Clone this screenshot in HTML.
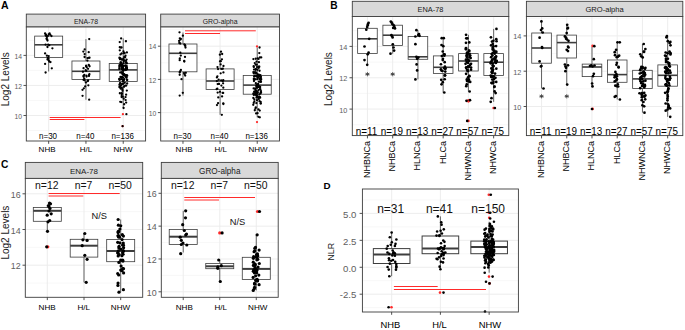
<!DOCTYPE html>
<html><head><meta charset="utf-8"><style>
html,body{margin:0;padding:0;background:#fff;width:685px;height:330px;overflow:hidden}
svg{display:block;font-family:"Liberation Sans", sans-serif}
</style></head><body>
<svg width="685" height="330" viewBox="0 0 685 330" font-family='"Liberation Sans", sans-serif'>
<rect x="0.00" y="0.00" width="685.00" height="330.00" fill="#ffffff"/>
<text x="1.00" y="8.70" font-size="10.5" text-anchor="start" fill="#000" font-weight="bold">A</text>
<text x="330.30" y="8.90" font-size="10.2" text-anchor="start" fill="#000" font-weight="bold">B</text>
<text x="1.00" y="167.90" font-size="10.2" text-anchor="start" fill="#000" font-weight="bold">C</text>
<text x="323.40" y="189.30" font-size="9.8" text-anchor="start" fill="#000" font-weight="bold">D</text>
<rect x="26.30" y="14.10" width="119.30" height="12.90" fill="#d9d9d9" stroke="#3d3d3d" stroke-width="0.9"/>
<text x="85.95" y="24.40" font-size="6.9" text-anchor="middle" fill="#1a1a1a" font-weight="normal">ENA-78</text>
<rect x="26.30" y="27.00" width="119.30" height="114.00" fill="#ffffff"/>
<line x1="26.30" y1="130.53" x2="145.60" y2="130.53" stroke="#f2f2f2" stroke-width="0.6"/>
<line x1="26.30" y1="100.47" x2="145.60" y2="100.47" stroke="#f2f2f2" stroke-width="0.6"/>
<line x1="26.30" y1="70.42" x2="145.60" y2="70.42" stroke="#f2f2f2" stroke-width="0.6"/>
<line x1="26.30" y1="40.38" x2="145.60" y2="40.38" stroke="#f2f2f2" stroke-width="0.6"/>
<line x1="26.30" y1="115.50" x2="145.60" y2="115.50" stroke="#ebebeb" stroke-width="0.9"/>
<line x1="26.30" y1="85.45" x2="145.60" y2="85.45" stroke="#ebebeb" stroke-width="0.9"/>
<line x1="26.30" y1="55.40" x2="145.60" y2="55.40" stroke="#ebebeb" stroke-width="0.9"/>
<line x1="48.67" y1="27.00" x2="48.67" y2="141.00" stroke="#ebebeb" stroke-width="0.9"/>
<line x1="85.95" y1="27.00" x2="85.95" y2="141.00" stroke="#ebebeb" stroke-width="0.9"/>
<line x1="123.23" y1="27.00" x2="123.23" y2="141.00" stroke="#ebebeb" stroke-width="0.9"/>
<line x1="23.50" y1="115.50" x2="26.30" y2="115.50" stroke="#3d3d3d" stroke-width="0.9"/>
<text x="22.00" y="118.75" font-size="6.8" text-anchor="end" fill="#5e5e5e" font-weight="normal">10</text>
<line x1="23.50" y1="85.45" x2="26.30" y2="85.45" stroke="#3d3d3d" stroke-width="0.9"/>
<text x="22.00" y="88.70" font-size="6.8" text-anchor="end" fill="#5e5e5e" font-weight="normal">12</text>
<line x1="23.50" y1="55.40" x2="26.30" y2="55.40" stroke="#3d3d3d" stroke-width="0.9"/>
<text x="22.00" y="58.65" font-size="6.8" text-anchor="end" fill="#5e5e5e" font-weight="normal">14</text>
<line x1="48.67" y1="141.00" x2="48.67" y2="143.80" stroke="#3d3d3d" stroke-width="0.9"/>
<text x="47.07" y="152.00" font-size="8.0" text-anchor="middle" fill="#000000" font-weight="normal">NHB</text>
<line x1="85.95" y1="141.00" x2="85.95" y2="143.80" stroke="#3d3d3d" stroke-width="0.9"/>
<text x="85.95" y="152.00" font-size="8.0" text-anchor="middle" fill="#000000" font-weight="normal">H/L</text>
<line x1="123.23" y1="141.00" x2="123.23" y2="143.80" stroke="#3d3d3d" stroke-width="0.9"/>
<text x="123.03" y="152.00" font-size="8.0" text-anchor="middle" fill="#000000" font-weight="normal">NHW</text>
<line x1="48.67" y1="33.40" x2="48.67" y2="36.10" stroke="#3d3d3d" stroke-width="0.8"/>
<line x1="48.67" y1="57.40" x2="48.67" y2="71.50" stroke="#3d3d3d" stroke-width="0.8"/>
<rect x="34.67" y="36.10" width="28.00" height="21.30" fill="#ffffff" stroke="#3d3d3d" stroke-width="0.8"/>
<line x1="34.67" y1="44.80" x2="62.67" y2="44.80" stroke="#3d3d3d" stroke-width="1.6"/>
<circle cx="45.10" cy="33.40" r="1.15" fill="#000000"/>
<circle cx="46.00" cy="34.60" r="1.15" fill="#000000"/>
<circle cx="46.90" cy="37.00" r="1.15" fill="#000000"/>
<circle cx="46.50" cy="38.80" r="1.15" fill="#000000"/>
<circle cx="47.50" cy="40.60" r="1.15" fill="#000000"/>
<circle cx="48.70" cy="34.30" r="1.15" fill="#000000"/>
<circle cx="49.60" cy="33.40" r="1.15" fill="#000000"/>
<circle cx="51.50" cy="36.10" r="1.15" fill="#000000"/>
<circle cx="47.80" cy="36.10" r="1.15" fill="#000000"/>
<circle cx="45.60" cy="35.20" r="1.15" fill="#000000"/>
<circle cx="45.60" cy="44.60" r="1.15" fill="#000000"/>
<circle cx="48.20" cy="44.60" r="1.15" fill="#000000"/>
<circle cx="49.30" cy="45.20" r="1.15" fill="#000000"/>
<circle cx="47.50" cy="47.00" r="1.15" fill="#000000"/>
<circle cx="52.40" cy="48.30" r="1.15" fill="#000000"/>
<circle cx="45.10" cy="53.40" r="1.15" fill="#000000"/>
<circle cx="46.90" cy="55.70" r="1.15" fill="#000000"/>
<circle cx="48.70" cy="56.10" r="1.15" fill="#000000"/>
<circle cx="47.80" cy="57.90" r="1.15" fill="#000000"/>
<circle cx="47.50" cy="59.40" r="1.15" fill="#000000"/>
<circle cx="48.70" cy="60.30" r="1.15" fill="#000000"/>
<circle cx="50.50" cy="62.10" r="1.15" fill="#000000"/>
<circle cx="45.10" cy="63.90" r="1.15" fill="#000000"/>
<circle cx="51.80" cy="68.30" r="1.15" fill="#000000"/>
<circle cx="45.60" cy="72.50" r="1.15" fill="#000000"/>
<circle cx="49.30" cy="61.50" r="1.15" fill="#000000"/>
<circle cx="46.30" cy="36.00" r="1.15" fill="#000000"/>
<circle cx="50.30" cy="34.80" r="1.15" fill="#000000"/>
<circle cx="47.20" cy="39.50" r="1.15" fill="#000000"/>
<circle cx="48.50" cy="58.50" r="1.15" fill="#000000"/>
<line x1="85.95" y1="39.10" x2="85.95" y2="61.00" stroke="#3d3d3d" stroke-width="0.8"/>
<line x1="85.95" y1="79.40" x2="85.95" y2="99.70" stroke="#3d3d3d" stroke-width="0.8"/>
<rect x="71.95" y="61.00" width="28.00" height="18.40" fill="#ffffff" stroke="#3d3d3d" stroke-width="0.8"/>
<line x1="71.95" y1="71.30" x2="99.95" y2="71.30" stroke="#3d3d3d" stroke-width="1.6"/>
<circle cx="89.23" cy="39.10" r="1.15" fill="#000000"/>
<circle cx="89.17" cy="99.70" r="1.15" fill="#000000"/>
<circle cx="82.96" cy="71.76" r="1.15" fill="#000000"/>
<circle cx="87.65" cy="81.14" r="1.15" fill="#000000"/>
<circle cx="84.57" cy="57.02" r="1.15" fill="#000000"/>
<circle cx="86.72" cy="67.24" r="1.15" fill="#000000"/>
<circle cx="83.49" cy="76.01" r="1.15" fill="#000000"/>
<circle cx="85.18" cy="86.38" r="1.15" fill="#000000"/>
<circle cx="89.51" cy="57.72" r="1.15" fill="#000000"/>
<circle cx="86.27" cy="70.78" r="1.15" fill="#000000"/>
<circle cx="84.28" cy="74.90" r="1.15" fill="#000000"/>
<circle cx="82.55" cy="95.85" r="1.15" fill="#000000"/>
<circle cx="84.64" cy="54.03" r="1.15" fill="#000000"/>
<circle cx="88.77" cy="64.91" r="1.15" fill="#000000"/>
<circle cx="86.39" cy="75.56" r="1.15" fill="#000000"/>
<circle cx="82.52" cy="89.84" r="1.15" fill="#000000"/>
<circle cx="83.33" cy="51.59" r="1.15" fill="#000000"/>
<circle cx="89.54" cy="66.26" r="1.15" fill="#000000"/>
<circle cx="83.66" cy="76.76" r="1.15" fill="#000000"/>
<circle cx="88.09" cy="80.51" r="1.15" fill="#000000"/>
<circle cx="88.88" cy="57.87" r="1.15" fill="#000000"/>
<circle cx="88.04" cy="68.86" r="1.15" fill="#000000"/>
<circle cx="89.41" cy="74.17" r="1.15" fill="#000000"/>
<circle cx="83.51" cy="79.79" r="1.15" fill="#000000"/>
<circle cx="87.50" cy="58.12" r="1.15" fill="#000000"/>
<circle cx="86.17" cy="65.75" r="1.15" fill="#000000"/>
<circle cx="89.01" cy="75.27" r="1.15" fill="#000000"/>
<circle cx="88.34" cy="85.33" r="1.15" fill="#000000"/>
<circle cx="88.71" cy="52.13" r="1.15" fill="#000000"/>
<circle cx="85.67" cy="70.27" r="1.15" fill="#000000"/>
<circle cx="88.98" cy="75.90" r="1.15" fill="#000000"/>
<circle cx="85.85" cy="82.43" r="1.15" fill="#000000"/>
<circle cx="84.69" cy="49.41" r="1.15" fill="#000000"/>
<circle cx="83.55" cy="68.21" r="1.15" fill="#000000"/>
<circle cx="84.28" cy="78.65" r="1.15" fill="#000000"/>
<circle cx="84.58" cy="80.32" r="1.15" fill="#000000"/>
<circle cx="87.43" cy="60.53" r="1.15" fill="#000000"/>
<circle cx="86.08" cy="66.19" r="1.15" fill="#000000"/>
<circle cx="86.58" cy="76.58" r="1.15" fill="#000000"/>
<circle cx="83.85" cy="88.36" r="1.15" fill="#000000"/>
<line x1="123.23" y1="38.40" x2="123.23" y2="63.40" stroke="#3d3d3d" stroke-width="0.8"/>
<line x1="123.23" y1="81.50" x2="123.23" y2="108.00" stroke="#3d3d3d" stroke-width="0.8"/>
<rect x="109.23" y="63.40" width="28.00" height="18.10" fill="#ffffff" stroke="#3d3d3d" stroke-width="0.8"/>
<line x1="109.23" y1="69.90" x2="137.23" y2="69.90" stroke="#3d3d3d" stroke-width="1.6"/>
<circle cx="122.90" cy="114.20" r="1.15" fill="#ff2a2a"/>
<circle cx="122.60" cy="126.20" r="1.15" fill="#ff2a2a"/>
<circle cx="121.13" cy="38.40" r="1.15" fill="#000000"/>
<circle cx="123.59" cy="108.00" r="1.15" fill="#000000"/>
<circle cx="124.06" cy="74.19" r="1.15" fill="#000000"/>
<circle cx="119.76" cy="87.04" r="1.15" fill="#000000"/>
<circle cx="125.93" cy="41.27" r="1.15" fill="#000000"/>
<circle cx="121.11" cy="65.09" r="1.15" fill="#000000"/>
<circle cx="122.99" cy="81.45" r="1.15" fill="#000000"/>
<circle cx="123.04" cy="83.76" r="1.15" fill="#000000"/>
<circle cx="120.44" cy="58.39" r="1.15" fill="#000000"/>
<circle cx="126.18" cy="67.53" r="1.15" fill="#000000"/>
<circle cx="125.16" cy="75.97" r="1.15" fill="#000000"/>
<circle cx="119.74" cy="86.29" r="1.15" fill="#000000"/>
<circle cx="123.96" cy="60.17" r="1.15" fill="#000000"/>
<circle cx="119.48" cy="65.36" r="1.15" fill="#000000"/>
<circle cx="123.01" cy="79.94" r="1.15" fill="#000000"/>
<circle cx="126.26" cy="85.53" r="1.15" fill="#000000"/>
<circle cx="126.60" cy="59.53" r="1.15" fill="#000000"/>
<circle cx="125.64" cy="65.97" r="1.15" fill="#000000"/>
<circle cx="126.72" cy="75.06" r="1.15" fill="#000000"/>
<circle cx="120.01" cy="83.16" r="1.15" fill="#000000"/>
<circle cx="120.97" cy="47.62" r="1.15" fill="#000000"/>
<circle cx="122.72" cy="69.68" r="1.15" fill="#000000"/>
<circle cx="121.64" cy="77.17" r="1.15" fill="#000000"/>
<circle cx="122.32" cy="89.13" r="1.15" fill="#000000"/>
<circle cx="123.91" cy="53.21" r="1.15" fill="#000000"/>
<circle cx="126.46" cy="67.20" r="1.15" fill="#000000"/>
<circle cx="126.66" cy="77.81" r="1.15" fill="#000000"/>
<circle cx="127.16" cy="83.48" r="1.15" fill="#000000"/>
<circle cx="120.54" cy="58.88" r="1.15" fill="#000000"/>
<circle cx="126.95" cy="68.99" r="1.15" fill="#000000"/>
<circle cx="123.78" cy="80.39" r="1.15" fill="#000000"/>
<circle cx="120.92" cy="85.61" r="1.15" fill="#000000"/>
<circle cx="123.82" cy="61.20" r="1.15" fill="#000000"/>
<circle cx="119.74" cy="65.25" r="1.15" fill="#000000"/>
<circle cx="127.15" cy="79.81" r="1.15" fill="#000000"/>
<circle cx="125.64" cy="100.12" r="1.15" fill="#000000"/>
<circle cx="120.44" cy="54.42" r="1.15" fill="#000000"/>
<circle cx="125.38" cy="65.31" r="1.15" fill="#000000"/>
<circle cx="119.58" cy="80.02" r="1.15" fill="#000000"/>
<circle cx="119.59" cy="87.23" r="1.15" fill="#000000"/>
<circle cx="121.88" cy="59.59" r="1.15" fill="#000000"/>
<circle cx="127.08" cy="69.13" r="1.15" fill="#000000"/>
<circle cx="127.22" cy="75.76" r="1.15" fill="#000000"/>
<circle cx="119.85" cy="93.25" r="1.15" fill="#000000"/>
<circle cx="119.48" cy="57.76" r="1.15" fill="#000000"/>
<circle cx="122.49" cy="64.68" r="1.15" fill="#000000"/>
<circle cx="120.48" cy="76.98" r="1.15" fill="#000000"/>
<circle cx="126.17" cy="102.54" r="1.15" fill="#000000"/>
<circle cx="126.90" cy="52.41" r="1.15" fill="#000000"/>
<circle cx="122.25" cy="69.23" r="1.15" fill="#000000"/>
<circle cx="123.39" cy="75.24" r="1.15" fill="#000000"/>
<circle cx="124.00" cy="86.74" r="1.15" fill="#000000"/>
<circle cx="124.19" cy="57.10" r="1.15" fill="#000000"/>
<circle cx="123.29" cy="69.51" r="1.15" fill="#000000"/>
<circle cx="124.99" cy="74.90" r="1.15" fill="#000000"/>
<circle cx="121.64" cy="95.08" r="1.15" fill="#000000"/>
<circle cx="123.40" cy="63.12" r="1.15" fill="#000000"/>
<circle cx="119.32" cy="66.96" r="1.15" fill="#000000"/>
<circle cx="123.87" cy="74.72" r="1.15" fill="#000000"/>
<circle cx="124.16" cy="104.25" r="1.15" fill="#000000"/>
<circle cx="119.71" cy="58.28" r="1.15" fill="#000000"/>
<circle cx="122.96" cy="67.48" r="1.15" fill="#000000"/>
<circle cx="122.05" cy="77.78" r="1.15" fill="#000000"/>
<circle cx="125.14" cy="85.72" r="1.15" fill="#000000"/>
<circle cx="119.72" cy="42.12" r="1.15" fill="#000000"/>
<circle cx="126.94" cy="67.79" r="1.15" fill="#000000"/>
<circle cx="122.88" cy="72.81" r="1.15" fill="#000000"/>
<circle cx="121.79" cy="87.60" r="1.15" fill="#000000"/>
<circle cx="121.73" cy="53.48" r="1.15" fill="#000000"/>
<circle cx="124.00" cy="65.80" r="1.15" fill="#000000"/>
<circle cx="122.25" cy="73.38" r="1.15" fill="#000000"/>
<circle cx="119.45" cy="84.71" r="1.15" fill="#000000"/>
<circle cx="125.11" cy="57.26" r="1.15" fill="#000000"/>
<circle cx="121.01" cy="65.42" r="1.15" fill="#000000"/>
<circle cx="121.14" cy="79.22" r="1.15" fill="#000000"/>
<circle cx="122.71" cy="96.53" r="1.15" fill="#000000"/>
<circle cx="120.05" cy="59.29" r="1.15" fill="#000000"/>
<circle cx="121.90" cy="65.49" r="1.15" fill="#000000"/>
<circle cx="122.74" cy="79.57" r="1.15" fill="#000000"/>
<circle cx="120.59" cy="83.49" r="1.15" fill="#000000"/>
<circle cx="124.43" cy="52.91" r="1.15" fill="#000000"/>
<circle cx="122.84" cy="69.15" r="1.15" fill="#000000"/>
<circle cx="120.20" cy="72.51" r="1.15" fill="#000000"/>
<circle cx="120.76" cy="88.71" r="1.15" fill="#000000"/>
<circle cx="125.94" cy="60.86" r="1.15" fill="#000000"/>
<circle cx="121.46" cy="64.59" r="1.15" fill="#000000"/>
<circle cx="124.37" cy="79.26" r="1.15" fill="#000000"/>
<circle cx="121.99" cy="84.21" r="1.15" fill="#000000"/>
<circle cx="121.57" cy="47.40" r="1.15" fill="#000000"/>
<circle cx="121.40" cy="68.56" r="1.15" fill="#000000"/>
<circle cx="122.57" cy="73.92" r="1.15" fill="#000000"/>
<circle cx="122.51" cy="90.83" r="1.15" fill="#000000"/>
<circle cx="120.48" cy="62.39" r="1.15" fill="#000000"/>
<circle cx="126.78" cy="63.43" r="1.15" fill="#000000"/>
<circle cx="127.13" cy="80.11" r="1.15" fill="#000000"/>
<circle cx="126.83" cy="90.54" r="1.15" fill="#000000"/>
<circle cx="121.01" cy="62.48" r="1.15" fill="#000000"/>
<circle cx="125.92" cy="68.25" r="1.15" fill="#000000"/>
<circle cx="123.38" cy="77.59" r="1.15" fill="#000000"/>
<circle cx="121.96" cy="93.75" r="1.15" fill="#000000"/>
<circle cx="119.78" cy="50.32" r="1.15" fill="#000000"/>
<circle cx="121.53" cy="67.23" r="1.15" fill="#000000"/>
<circle cx="119.59" cy="79.30" r="1.15" fill="#000000"/>
<circle cx="124.78" cy="82.81" r="1.15" fill="#000000"/>
<circle cx="126.40" cy="62.43" r="1.15" fill="#000000"/>
<circle cx="123.85" cy="69.25" r="1.15" fill="#000000"/>
<circle cx="125.19" cy="70.05" r="1.15" fill="#000000"/>
<circle cx="121.63" cy="97.02" r="1.15" fill="#000000"/>
<circle cx="123.43" cy="58.75" r="1.15" fill="#000000"/>
<circle cx="126.74" cy="66.09" r="1.15" fill="#000000"/>
<circle cx="121.96" cy="77.00" r="1.15" fill="#000000"/>
<circle cx="126.12" cy="94.68" r="1.15" fill="#000000"/>
<circle cx="125.49" cy="55.67" r="1.15" fill="#000000"/>
<circle cx="120.81" cy="65.69" r="1.15" fill="#000000"/>
<circle cx="125.77" cy="76.10" r="1.15" fill="#000000"/>
<circle cx="125.56" cy="97.03" r="1.15" fill="#000000"/>
<circle cx="125.68" cy="62.40" r="1.15" fill="#000000"/>
<circle cx="119.29" cy="68.75" r="1.15" fill="#000000"/>
<circle cx="126.13" cy="77.19" r="1.15" fill="#000000"/>
<circle cx="121.40" cy="102.08" r="1.15" fill="#000000"/>
<circle cx="123.45" cy="51.36" r="1.15" fill="#000000"/>
<circle cx="123.01" cy="66.15" r="1.15" fill="#000000"/>
<circle cx="119.25" cy="78.91" r="1.15" fill="#000000"/>
<circle cx="120.25" cy="101.79" r="1.15" fill="#000000"/>
<circle cx="119.78" cy="47.23" r="1.15" fill="#000000"/>
<circle cx="126.07" cy="69.74" r="1.15" fill="#000000"/>
<circle cx="123.25" cy="70.90" r="1.15" fill="#000000"/>
<circle cx="121.75" cy="93.11" r="1.15" fill="#000000"/>
<circle cx="124.41" cy="53.22" r="1.15" fill="#000000"/>
<circle cx="122.12" cy="67.21" r="1.15" fill="#000000"/>
<circle cx="121.86" cy="72.12" r="1.15" fill="#000000"/>
<circle cx="123.68" cy="98.68" r="1.15" fill="#000000"/>
<circle cx="122.27" cy="59.55" r="1.15" fill="#000000"/>
<circle cx="120.66" cy="63.92" r="1.15" fill="#000000"/>
<circle cx="126.40" cy="114.20" r="1.15" fill="#000000"/>
<circle cx="122.60" cy="126.20" r="1.15" fill="#000000"/>
<line x1="49.70" y1="117.50" x2="120.60" y2="117.50" stroke="#ff2a2a" stroke-width="1.0"/>
<line x1="49.70" y1="119.50" x2="84.40" y2="119.50" stroke="#ff2a2a" stroke-width="1.0"/>
<text transform="translate(48.07,139.30) scale(1,1.1)" font-size="8.0" text-anchor="middle" fill="#000" font-weight="normal">n=30</text>
<text transform="translate(85.35,139.30) scale(1,1.1)" font-size="8.0" text-anchor="middle" fill="#000" font-weight="normal">n=40</text>
<text transform="translate(122.63,139.30) scale(1,1.1)" font-size="8.0" text-anchor="middle" fill="#000" font-weight="normal">n=136</text>
<rect x="26.30" y="27.00" width="119.30" height="114.00" fill="none" stroke="#3d3d3d" stroke-width="0.9"/>
<rect x="160.70" y="14.10" width="118.80" height="12.90" fill="#d9d9d9" stroke="#3d3d3d" stroke-width="0.9"/>
<text x="220.10" y="24.40" font-size="6.9" text-anchor="middle" fill="#1a1a1a" font-weight="normal">GRO-alpha</text>
<rect x="160.70" y="27.00" width="118.80" height="114.00" fill="#ffffff"/>
<line x1="160.70" y1="129.20" x2="279.50" y2="129.20" stroke="#f2f2f2" stroke-width="0.6"/>
<line x1="160.70" y1="96.00" x2="279.50" y2="96.00" stroke="#f2f2f2" stroke-width="0.6"/>
<line x1="160.70" y1="62.80" x2="279.50" y2="62.80" stroke="#f2f2f2" stroke-width="0.6"/>
<line x1="160.70" y1="29.60" x2="279.50" y2="29.60" stroke="#f2f2f2" stroke-width="0.6"/>
<line x1="160.70" y1="112.60" x2="279.50" y2="112.60" stroke="#ebebeb" stroke-width="0.9"/>
<line x1="160.70" y1="79.40" x2="279.50" y2="79.40" stroke="#ebebeb" stroke-width="0.9"/>
<line x1="160.70" y1="46.20" x2="279.50" y2="46.20" stroke="#ebebeb" stroke-width="0.9"/>
<line x1="182.97" y1="27.00" x2="182.97" y2="141.00" stroke="#ebebeb" stroke-width="0.9"/>
<line x1="220.10" y1="27.00" x2="220.10" y2="141.00" stroke="#ebebeb" stroke-width="0.9"/>
<line x1="257.23" y1="27.00" x2="257.23" y2="141.00" stroke="#ebebeb" stroke-width="0.9"/>
<line x1="157.90" y1="112.60" x2="160.70" y2="112.60" stroke="#3d3d3d" stroke-width="0.9"/>
<text x="156.40" y="115.85" font-size="6.8" text-anchor="end" fill="#5e5e5e" font-weight="normal">10</text>
<line x1="157.90" y1="79.40" x2="160.70" y2="79.40" stroke="#3d3d3d" stroke-width="0.9"/>
<text x="156.40" y="82.65" font-size="6.8" text-anchor="end" fill="#5e5e5e" font-weight="normal">12</text>
<line x1="157.90" y1="46.20" x2="160.70" y2="46.20" stroke="#3d3d3d" stroke-width="0.9"/>
<text x="156.40" y="49.45" font-size="6.8" text-anchor="end" fill="#5e5e5e" font-weight="normal">14</text>
<line x1="182.97" y1="141.00" x2="182.97" y2="143.80" stroke="#3d3d3d" stroke-width="0.9"/>
<text x="184.07" y="152.00" font-size="8.0" text-anchor="middle" fill="#000000" font-weight="normal">NHB</text>
<line x1="220.10" y1="141.00" x2="220.10" y2="143.80" stroke="#3d3d3d" stroke-width="0.9"/>
<text x="220.70" y="152.00" font-size="8.0" text-anchor="middle" fill="#000000" font-weight="normal">H/L</text>
<line x1="257.23" y1="141.00" x2="257.23" y2="143.80" stroke="#3d3d3d" stroke-width="0.9"/>
<text x="257.98" y="152.00" font-size="8.0" text-anchor="middle" fill="#000000" font-weight="normal">NHW</text>
<line x1="182.97" y1="32.50" x2="182.97" y2="44.00" stroke="#3d3d3d" stroke-width="0.8"/>
<line x1="182.97" y1="71.80" x2="182.97" y2="95.60" stroke="#3d3d3d" stroke-width="0.8"/>
<rect x="168.97" y="44.00" width="28.00" height="27.80" fill="#ffffff" stroke="#3d3d3d" stroke-width="0.8"/>
<line x1="168.97" y1="53.30" x2="196.97" y2="53.30" stroke="#3d3d3d" stroke-width="1.6"/>
<circle cx="179.50" cy="32.30" r="1.15" fill="#000000"/>
<circle cx="182.90" cy="35.70" r="1.15" fill="#000000"/>
<circle cx="179.80" cy="38.30" r="1.15" fill="#000000"/>
<circle cx="180.80" cy="38.80" r="1.15" fill="#000000"/>
<circle cx="179.10" cy="40.90" r="1.15" fill="#000000"/>
<circle cx="179.30" cy="43.00" r="1.15" fill="#000000"/>
<circle cx="180.30" cy="43.50" r="1.15" fill="#000000"/>
<circle cx="184.40" cy="44.50" r="1.15" fill="#000000"/>
<circle cx="185.30" cy="46.00" r="1.15" fill="#000000"/>
<circle cx="185.50" cy="47.60" r="1.15" fill="#000000"/>
<circle cx="180.30" cy="52.70" r="1.15" fill="#000000"/>
<circle cx="180.80" cy="55.60" r="1.15" fill="#000000"/>
<circle cx="185.00" cy="56.90" r="1.15" fill="#000000"/>
<circle cx="179.80" cy="58.40" r="1.15" fill="#000000"/>
<circle cx="184.20" cy="61.00" r="1.15" fill="#000000"/>
<circle cx="179.70" cy="60.20" r="1.15" fill="#000000"/>
<circle cx="184.30" cy="61.50" r="1.15" fill="#000000"/>
<circle cx="180.90" cy="70.00" r="1.15" fill="#000000"/>
<circle cx="179.70" cy="72.50" r="1.15" fill="#000000"/>
<circle cx="179.70" cy="74.80" r="1.15" fill="#000000"/>
<circle cx="184.00" cy="73.10" r="1.15" fill="#000000"/>
<circle cx="185.80" cy="72.80" r="1.15" fill="#000000"/>
<circle cx="185.20" cy="75.60" r="1.15" fill="#000000"/>
<circle cx="184.60" cy="74.30" r="1.15" fill="#000000"/>
<circle cx="181.50" cy="79.20" r="1.15" fill="#000000"/>
<circle cx="182.80" cy="92.80" r="1.15" fill="#000000"/>
<circle cx="179.70" cy="95.60" r="1.15" fill="#000000"/>
<circle cx="180.50" cy="39.50" r="1.15" fill="#000000"/>
<circle cx="185.00" cy="45.20" r="1.15" fill="#000000"/>
<circle cx="180.00" cy="71.50" r="1.15" fill="#000000"/>
<line x1="220.10" y1="51.70" x2="220.10" y2="68.90" stroke="#3d3d3d" stroke-width="0.8"/>
<line x1="220.10" y1="89.40" x2="220.10" y2="114.80" stroke="#3d3d3d" stroke-width="0.8"/>
<rect x="206.10" y="68.90" width="28.00" height="20.50" fill="#ffffff" stroke="#3d3d3d" stroke-width="0.8"/>
<line x1="206.10" y1="81.00" x2="234.10" y2="81.00" stroke="#3d3d3d" stroke-width="1.6"/>
<circle cx="220.98" cy="51.70" r="1.15" fill="#000000"/>
<circle cx="221.84" cy="114.80" r="1.15" fill="#000000"/>
<circle cx="223.29" cy="87.68" r="1.15" fill="#000000"/>
<circle cx="223.14" cy="92.95" r="1.15" fill="#000000"/>
<circle cx="219.85" cy="54.63" r="1.15" fill="#000000"/>
<circle cx="221.17" cy="80.31" r="1.15" fill="#000000"/>
<circle cx="217.32" cy="88.57" r="1.15" fill="#000000"/>
<circle cx="218.28" cy="97.40" r="1.15" fill="#000000"/>
<circle cx="220.63" cy="64.38" r="1.15" fill="#000000"/>
<circle cx="218.06" cy="69.06" r="1.15" fill="#000000"/>
<circle cx="223.10" cy="83.35" r="1.15" fill="#000000"/>
<circle cx="217.65" cy="92.57" r="1.15" fill="#000000"/>
<circle cx="217.50" cy="67.06" r="1.15" fill="#000000"/>
<circle cx="217.41" cy="76.37" r="1.15" fill="#000000"/>
<circle cx="222.77" cy="81.01" r="1.15" fill="#000000"/>
<circle cx="218.05" cy="103.18" r="1.15" fill="#000000"/>
<circle cx="222.78" cy="68.75" r="1.15" fill="#000000"/>
<circle cx="223.42" cy="72.40" r="1.15" fill="#000000"/>
<circle cx="221.38" cy="85.53" r="1.15" fill="#000000"/>
<circle cx="223.28" cy="103.31" r="1.15" fill="#000000"/>
<circle cx="223.46" cy="65.99" r="1.15" fill="#000000"/>
<circle cx="218.65" cy="79.71" r="1.15" fill="#000000"/>
<circle cx="217.69" cy="84.03" r="1.15" fill="#000000"/>
<circle cx="216.97" cy="105.10" r="1.15" fill="#000000"/>
<circle cx="220.84" cy="61.14" r="1.15" fill="#000000"/>
<circle cx="221.38" cy="68.94" r="1.15" fill="#000000"/>
<circle cx="218.73" cy="83.84" r="1.15" fill="#000000"/>
<circle cx="219.96" cy="91.82" r="1.15" fill="#000000"/>
<circle cx="219.96" cy="61.37" r="1.15" fill="#000000"/>
<circle cx="216.91" cy="77.43" r="1.15" fill="#000000"/>
<circle cx="216.66" cy="89.19" r="1.15" fill="#000000"/>
<circle cx="222.58" cy="92.81" r="1.15" fill="#000000"/>
<circle cx="222.17" cy="54.01" r="1.15" fill="#000000"/>
<circle cx="220.67" cy="73.33" r="1.15" fill="#000000"/>
<circle cx="216.84" cy="81.08" r="1.15" fill="#000000"/>
<circle cx="223.38" cy="104.00" r="1.15" fill="#000000"/>
<circle cx="221.94" cy="59.32" r="1.15" fill="#000000"/>
<circle cx="223.28" cy="80.15" r="1.15" fill="#000000"/>
<circle cx="219.05" cy="83.89" r="1.15" fill="#000000"/>
<circle cx="222.08" cy="96.40" r="1.15" fill="#000000"/>
<line x1="257.23" y1="47.50" x2="257.23" y2="75.40" stroke="#3d3d3d" stroke-width="0.8"/>
<line x1="257.23" y1="94.20" x2="257.23" y2="117.30" stroke="#3d3d3d" stroke-width="0.8"/>
<rect x="243.23" y="75.40" width="28.00" height="18.80" fill="#ffffff" stroke="#3d3d3d" stroke-width="0.8"/>
<line x1="243.23" y1="85.10" x2="271.23" y2="85.10" stroke="#3d3d3d" stroke-width="1.6"/>
<circle cx="257.00" cy="46.40" r="1.15" fill="#ff2a2a"/>
<circle cx="257.00" cy="122.10" r="1.15" fill="#ff2a2a"/>
<circle cx="259.57" cy="47.50" r="1.15" fill="#000000"/>
<circle cx="259.80" cy="117.30" r="1.15" fill="#000000"/>
<circle cx="255.32" cy="89.51" r="1.15" fill="#000000"/>
<circle cx="258.53" cy="116.81" r="1.15" fill="#000000"/>
<circle cx="259.30" cy="66.63" r="1.15" fill="#000000"/>
<circle cx="259.39" cy="79.02" r="1.15" fill="#000000"/>
<circle cx="259.64" cy="87.58" r="1.15" fill="#000000"/>
<circle cx="256.54" cy="97.57" r="1.15" fill="#000000"/>
<circle cx="258.68" cy="67.97" r="1.15" fill="#000000"/>
<circle cx="257.65" cy="77.27" r="1.15" fill="#000000"/>
<circle cx="255.35" cy="92.43" r="1.15" fill="#000000"/>
<circle cx="258.71" cy="96.60" r="1.15" fill="#000000"/>
<circle cx="255.91" cy="73.14" r="1.15" fill="#000000"/>
<circle cx="259.63" cy="76.30" r="1.15" fill="#000000"/>
<circle cx="256.79" cy="92.42" r="1.15" fill="#000000"/>
<circle cx="254.80" cy="110.23" r="1.15" fill="#000000"/>
<circle cx="255.55" cy="69.73" r="1.15" fill="#000000"/>
<circle cx="257.93" cy="84.63" r="1.15" fill="#000000"/>
<circle cx="258.47" cy="86.93" r="1.15" fill="#000000"/>
<circle cx="260.69" cy="103.43" r="1.15" fill="#000000"/>
<circle cx="257.34" cy="74.11" r="1.15" fill="#000000"/>
<circle cx="258.81" cy="81.65" r="1.15" fill="#000000"/>
<circle cx="261.04" cy="92.43" r="1.15" fill="#000000"/>
<circle cx="256.12" cy="113.41" r="1.15" fill="#000000"/>
<circle cx="255.66" cy="69.14" r="1.15" fill="#000000"/>
<circle cx="253.94" cy="81.11" r="1.15" fill="#000000"/>
<circle cx="257.43" cy="93.11" r="1.15" fill="#000000"/>
<circle cx="258.53" cy="109.40" r="1.15" fill="#000000"/>
<circle cx="254.79" cy="63.09" r="1.15" fill="#000000"/>
<circle cx="254.33" cy="80.09" r="1.15" fill="#000000"/>
<circle cx="260.15" cy="87.01" r="1.15" fill="#000000"/>
<circle cx="253.33" cy="98.00" r="1.15" fill="#000000"/>
<circle cx="253.36" cy="72.11" r="1.15" fill="#000000"/>
<circle cx="260.46" cy="78.63" r="1.15" fill="#000000"/>
<circle cx="255.67" cy="90.74" r="1.15" fill="#000000"/>
<circle cx="256.34" cy="103.11" r="1.15" fill="#000000"/>
<circle cx="261.22" cy="57.44" r="1.15" fill="#000000"/>
<circle cx="256.61" cy="75.92" r="1.15" fill="#000000"/>
<circle cx="256.41" cy="91.89" r="1.15" fill="#000000"/>
<circle cx="255.19" cy="94.42" r="1.15" fill="#000000"/>
<circle cx="260.36" cy="75.11" r="1.15" fill="#000000"/>
<circle cx="260.34" cy="81.90" r="1.15" fill="#000000"/>
<circle cx="259.88" cy="89.17" r="1.15" fill="#000000"/>
<circle cx="257.36" cy="96.69" r="1.15" fill="#000000"/>
<circle cx="258.87" cy="66.65" r="1.15" fill="#000000"/>
<circle cx="253.91" cy="79.37" r="1.15" fill="#000000"/>
<circle cx="255.35" cy="91.89" r="1.15" fill="#000000"/>
<circle cx="259.50" cy="101.17" r="1.15" fill="#000000"/>
<circle cx="253.40" cy="59.08" r="1.15" fill="#000000"/>
<circle cx="257.94" cy="76.60" r="1.15" fill="#000000"/>
<circle cx="255.28" cy="88.39" r="1.15" fill="#000000"/>
<circle cx="260.65" cy="101.78" r="1.15" fill="#000000"/>
<circle cx="256.51" cy="61.58" r="1.15" fill="#000000"/>
<circle cx="258.12" cy="83.93" r="1.15" fill="#000000"/>
<circle cx="257.02" cy="87.54" r="1.15" fill="#000000"/>
<circle cx="254.36" cy="101.32" r="1.15" fill="#000000"/>
<circle cx="255.67" cy="64.64" r="1.15" fill="#000000"/>
<circle cx="255.81" cy="83.21" r="1.15" fill="#000000"/>
<circle cx="260.99" cy="91.10" r="1.15" fill="#000000"/>
<circle cx="256.23" cy="95.11" r="1.15" fill="#000000"/>
<circle cx="255.79" cy="69.17" r="1.15" fill="#000000"/>
<circle cx="257.13" cy="79.26" r="1.15" fill="#000000"/>
<circle cx="260.72" cy="92.32" r="1.15" fill="#000000"/>
<circle cx="253.27" cy="104.84" r="1.15" fill="#000000"/>
<circle cx="253.68" cy="66.20" r="1.15" fill="#000000"/>
<circle cx="259.41" cy="75.69" r="1.15" fill="#000000"/>
<circle cx="258.97" cy="86.12" r="1.15" fill="#000000"/>
<circle cx="260.73" cy="103.40" r="1.15" fill="#000000"/>
<circle cx="253.72" cy="73.28" r="1.15" fill="#000000"/>
<circle cx="260.80" cy="77.27" r="1.15" fill="#000000"/>
<circle cx="256.60" cy="90.68" r="1.15" fill="#000000"/>
<circle cx="259.73" cy="96.87" r="1.15" fill="#000000"/>
<circle cx="256.98" cy="67.06" r="1.15" fill="#000000"/>
<circle cx="256.12" cy="76.37" r="1.15" fill="#000000"/>
<circle cx="258.23" cy="86.42" r="1.15" fill="#000000"/>
<circle cx="254.38" cy="99.31" r="1.15" fill="#000000"/>
<circle cx="254.00" cy="69.61" r="1.15" fill="#000000"/>
<circle cx="258.39" cy="76.42" r="1.15" fill="#000000"/>
<circle cx="260.42" cy="89.31" r="1.15" fill="#000000"/>
<circle cx="258.84" cy="98.98" r="1.15" fill="#000000"/>
<circle cx="259.89" cy="57.44" r="1.15" fill="#000000"/>
<circle cx="258.17" cy="76.21" r="1.15" fill="#000000"/>
<circle cx="260.49" cy="93.39" r="1.15" fill="#000000"/>
<circle cx="256.84" cy="95.47" r="1.15" fill="#000000"/>
<circle cx="259.56" cy="70.74" r="1.15" fill="#000000"/>
<circle cx="260.77" cy="76.73" r="1.15" fill="#000000"/>
<circle cx="256.75" cy="93.37" r="1.15" fill="#000000"/>
<circle cx="256.80" cy="96.92" r="1.15" fill="#000000"/>
<circle cx="258.92" cy="62.17" r="1.15" fill="#000000"/>
<circle cx="259.63" cy="76.02" r="1.15" fill="#000000"/>
<circle cx="255.51" cy="94.00" r="1.15" fill="#000000"/>
<circle cx="253.89" cy="94.91" r="1.15" fill="#000000"/>
<circle cx="255.46" cy="73.34" r="1.15" fill="#000000"/>
<circle cx="256.67" cy="84.77" r="1.15" fill="#000000"/>
<circle cx="253.48" cy="93.49" r="1.15" fill="#000000"/>
<circle cx="259.76" cy="110.54" r="1.15" fill="#000000"/>
<circle cx="257.51" cy="69.80" r="1.15" fill="#000000"/>
<circle cx="254.61" cy="75.72" r="1.15" fill="#000000"/>
<circle cx="253.64" cy="88.47" r="1.15" fill="#000000"/>
<circle cx="259.35" cy="94.28" r="1.15" fill="#000000"/>
<circle cx="258.83" cy="74.69" r="1.15" fill="#000000"/>
<circle cx="253.85" cy="78.73" r="1.15" fill="#000000"/>
<circle cx="254.14" cy="91.76" r="1.15" fill="#000000"/>
<circle cx="256.94" cy="100.21" r="1.15" fill="#000000"/>
<circle cx="253.83" cy="67.12" r="1.15" fill="#000000"/>
<circle cx="257.39" cy="76.12" r="1.15" fill="#000000"/>
<circle cx="257.43" cy="85.38" r="1.15" fill="#000000"/>
<circle cx="255.48" cy="108.34" r="1.15" fill="#000000"/>
<circle cx="257.77" cy="58.34" r="1.15" fill="#000000"/>
<circle cx="255.01" cy="79.17" r="1.15" fill="#000000"/>
<circle cx="257.74" cy="87.12" r="1.15" fill="#000000"/>
<circle cx="256.58" cy="95.26" r="1.15" fill="#000000"/>
<circle cx="255.76" cy="58.77" r="1.15" fill="#000000"/>
<circle cx="257.80" cy="77.73" r="1.15" fill="#000000"/>
<circle cx="257.78" cy="92.26" r="1.15" fill="#000000"/>
<circle cx="255.83" cy="107.28" r="1.15" fill="#000000"/>
<circle cx="256.75" cy="64.72" r="1.15" fill="#000000"/>
<circle cx="261.21" cy="79.26" r="1.15" fill="#000000"/>
<circle cx="258.52" cy="90.11" r="1.15" fill="#000000"/>
<circle cx="258.39" cy="97.75" r="1.15" fill="#000000"/>
<circle cx="256.20" cy="72.54" r="1.15" fill="#000000"/>
<circle cx="261.01" cy="81.87" r="1.15" fill="#000000"/>
<circle cx="258.23" cy="86.59" r="1.15" fill="#000000"/>
<circle cx="253.71" cy="102.97" r="1.15" fill="#000000"/>
<circle cx="259.30" cy="53.07" r="1.15" fill="#000000"/>
<circle cx="258.91" cy="76.51" r="1.15" fill="#000000"/>
<circle cx="256.17" cy="86.01" r="1.15" fill="#000000"/>
<circle cx="257.57" cy="113.16" r="1.15" fill="#000000"/>
<circle cx="255.03" cy="72.24" r="1.15" fill="#000000"/>
<circle cx="260.60" cy="80.88" r="1.15" fill="#000000"/>
<circle cx="256.99" cy="87.77" r="1.15" fill="#000000"/>
<circle cx="260.14" cy="97.64" r="1.15" fill="#000000"/>
<circle cx="258.52" cy="58.96" r="1.15" fill="#000000"/>
<circle cx="254.12" cy="76.56" r="1.15" fill="#000000"/>
<circle cx="253.63" cy="94.05" r="1.15" fill="#000000"/>
<line x1="185.00" y1="30.80" x2="255.80" y2="30.80" stroke="#ff2a2a" stroke-width="1.0"/>
<line x1="185.00" y1="33.50" x2="220.00" y2="33.50" stroke="#ff2a2a" stroke-width="1.0"/>
<text transform="translate(182.38,139.30) scale(1,1.1)" font-size="8.0" text-anchor="middle" fill="#000" font-weight="normal">n=30</text>
<text transform="translate(219.50,139.30) scale(1,1.1)" font-size="8.0" text-anchor="middle" fill="#000" font-weight="normal">n=40</text>
<text transform="translate(256.62,139.30) scale(1,1.1)" font-size="8.0" text-anchor="middle" fill="#000" font-weight="normal">n=136</text>
<rect x="160.70" y="27.00" width="118.80" height="114.00" fill="none" stroke="#3d3d3d" stroke-width="0.9"/>
<text transform="translate(8.70,79.30) rotate(-90)" font-size="10" text-anchor="middle" fill="#1a1a1a" font-weight="normal">Log2 Levels</text>
<rect x="352.30" y="1.30" width="156.50" height="15.20" fill="#d9d9d9" stroke="#3d3d3d" stroke-width="0.9"/>
<text x="430.55" y="12.40" font-size="7.4" text-anchor="middle" fill="#1a1a1a" font-weight="normal">ENA-78</text>
<rect x="352.30" y="16.50" width="156.50" height="119.10" fill="#ffffff"/>
<line x1="352.30" y1="124.78" x2="508.80" y2="124.78" stroke="#f2f2f2" stroke-width="0.6"/>
<line x1="352.30" y1="93.42" x2="508.80" y2="93.42" stroke="#f2f2f2" stroke-width="0.6"/>
<line x1="352.30" y1="62.07" x2="508.80" y2="62.07" stroke="#f2f2f2" stroke-width="0.6"/>
<line x1="352.30" y1="30.73" x2="508.80" y2="30.73" stroke="#f2f2f2" stroke-width="0.6"/>
<line x1="352.30" y1="109.10" x2="508.80" y2="109.10" stroke="#ebebeb" stroke-width="0.9"/>
<line x1="352.30" y1="77.75" x2="508.80" y2="77.75" stroke="#ebebeb" stroke-width="0.9"/>
<line x1="352.30" y1="46.40" x2="508.80" y2="46.40" stroke="#ebebeb" stroke-width="0.9"/>
<line x1="367.45" y1="16.50" x2="367.45" y2="135.60" stroke="#ebebeb" stroke-width="0.9"/>
<line x1="392.69" y1="16.50" x2="392.69" y2="135.60" stroke="#ebebeb" stroke-width="0.9"/>
<line x1="417.93" y1="16.50" x2="417.93" y2="135.60" stroke="#ebebeb" stroke-width="0.9"/>
<line x1="443.17" y1="16.50" x2="443.17" y2="135.60" stroke="#ebebeb" stroke-width="0.9"/>
<line x1="468.41" y1="16.50" x2="468.41" y2="135.60" stroke="#ebebeb" stroke-width="0.9"/>
<line x1="493.65" y1="16.50" x2="493.65" y2="135.60" stroke="#ebebeb" stroke-width="0.9"/>
<line x1="349.50" y1="109.10" x2="352.30" y2="109.10" stroke="#3d3d3d" stroke-width="0.9"/>
<text x="347.30" y="112.53" font-size="7.3" text-anchor="end" fill="#5e5e5e" font-weight="normal">10</text>
<line x1="349.50" y1="77.75" x2="352.30" y2="77.75" stroke="#3d3d3d" stroke-width="0.9"/>
<text x="347.30" y="81.18" font-size="7.3" text-anchor="end" fill="#5e5e5e" font-weight="normal">12</text>
<line x1="349.50" y1="46.40" x2="352.30" y2="46.40" stroke="#3d3d3d" stroke-width="0.9"/>
<text x="347.30" y="49.83" font-size="7.3" text-anchor="end" fill="#5e5e5e" font-weight="normal">14</text>
<line x1="367.45" y1="135.60" x2="367.45" y2="138.40" stroke="#3d3d3d" stroke-width="0.9"/>
<text transform="translate(369.79,141.00) rotate(-90)" font-size="9.0" text-anchor="end" fill="#000000" font-weight="normal">NHBNCa</text>
<line x1="392.69" y1="135.60" x2="392.69" y2="138.40" stroke="#3d3d3d" stroke-width="0.9"/>
<text transform="translate(395.03,141.00) rotate(-90)" font-size="9.0" text-anchor="end" fill="#000000" font-weight="normal">NHBCa</text>
<line x1="417.93" y1="135.60" x2="417.93" y2="138.40" stroke="#3d3d3d" stroke-width="0.9"/>
<text transform="translate(420.27,141.00) rotate(-90)" font-size="9.0" text-anchor="end" fill="#000000" font-weight="normal">HLNCa</text>
<line x1="443.17" y1="135.60" x2="443.17" y2="138.40" stroke="#3d3d3d" stroke-width="0.9"/>
<text transform="translate(445.51,141.00) rotate(-90)" font-size="9.0" text-anchor="end" fill="#000000" font-weight="normal">HLCa</text>
<line x1="468.41" y1="135.60" x2="468.41" y2="138.40" stroke="#3d3d3d" stroke-width="0.9"/>
<text transform="translate(470.75,141.00) rotate(-90)" font-size="9.0" text-anchor="end" fill="#000000" font-weight="normal">NHWNCa</text>
<line x1="493.65" y1="135.60" x2="493.65" y2="138.40" stroke="#3d3d3d" stroke-width="0.9"/>
<text transform="translate(495.99,141.00) rotate(-90)" font-size="9.0" text-anchor="end" fill="#000000" font-weight="normal">NHWCa</text>
<line x1="367.45" y1="22.80" x2="367.45" y2="28.30" stroke="#3d3d3d" stroke-width="0.8"/>
<line x1="367.45" y1="53.40" x2="367.45" y2="64.80" stroke="#3d3d3d" stroke-width="0.8"/>
<rect x="357.65" y="28.30" width="19.60" height="25.10" fill="#ffffff" stroke="#3d3d3d" stroke-width="0.8"/>
<line x1="357.65" y1="38.80" x2="377.25" y2="38.80" stroke="#3d3d3d" stroke-width="1.6"/>
<line x1="367.45" y1="72.10" x2="367.45" y2="76.30" stroke="#3a3a3a" stroke-width="0.8"/>
<line x1="369.26" y1="73.15" x2="365.63" y2="75.25" stroke="#3a3a3a" stroke-width="0.8"/>
<line x1="369.26" y1="75.25" x2="365.63" y2="73.15" stroke="#3a3a3a" stroke-width="0.8"/>
<line x1="365.35" y1="74.20" x2="369.55" y2="74.20" stroke="#3a3a3a" stroke-width="0.8"/>
<circle cx="368.60" cy="22.80" r="1.35" fill="#000000"/>
<circle cx="367.70" cy="25.20" r="1.35" fill="#000000"/>
<circle cx="367.20" cy="27.00" r="1.35" fill="#000000"/>
<circle cx="366.30" cy="29.70" r="1.35" fill="#000000"/>
<circle cx="369.20" cy="38.80" r="1.35" fill="#000000"/>
<circle cx="364.50" cy="46.50" r="1.35" fill="#000000"/>
<circle cx="368.60" cy="52.50" r="1.35" fill="#000000"/>
<circle cx="367.70" cy="54.30" r="1.35" fill="#000000"/>
<circle cx="364.50" cy="60.10" r="1.35" fill="#000000"/>
<circle cx="367.20" cy="64.80" r="1.35" fill="#000000"/>
<circle cx="368.00" cy="24.00" r="1.35" fill="#000000"/>
<line x1="392.69" y1="21.50" x2="392.69" y2="25.20" stroke="#3d3d3d" stroke-width="0.8"/>
<line x1="392.69" y1="45.50" x2="392.69" y2="53.70" stroke="#3d3d3d" stroke-width="0.8"/>
<rect x="382.89" y="25.20" width="19.60" height="20.30" fill="#ffffff" stroke="#3d3d3d" stroke-width="0.8"/>
<line x1="382.89" y1="35.20" x2="402.49" y2="35.20" stroke="#3d3d3d" stroke-width="1.6"/>
<line x1="392.69" y1="72.10" x2="392.69" y2="76.30" stroke="#3a3a3a" stroke-width="0.8"/>
<line x1="394.51" y1="73.15" x2="390.87" y2="75.25" stroke="#3a3a3a" stroke-width="0.8"/>
<line x1="394.51" y1="75.25" x2="390.87" y2="73.15" stroke="#3a3a3a" stroke-width="0.8"/>
<line x1="390.59" y1="74.20" x2="394.79" y2="74.20" stroke="#3a3a3a" stroke-width="0.8"/>
<circle cx="390.80" cy="21.50" r="1.35" fill="#000000"/>
<circle cx="392.30" cy="23.90" r="1.35" fill="#000000"/>
<circle cx="394.10" cy="26.10" r="1.35" fill="#000000"/>
<circle cx="394.60" cy="27.50" r="1.35" fill="#000000"/>
<circle cx="393.20" cy="27.90" r="1.35" fill="#000000"/>
<circle cx="391.40" cy="35.20" r="1.35" fill="#000000"/>
<circle cx="392.60" cy="37.40" r="1.35" fill="#000000"/>
<circle cx="392.80" cy="44.30" r="1.35" fill="#000000"/>
<circle cx="393.50" cy="47.50" r="1.35" fill="#000000"/>
<circle cx="394.10" cy="50.60" r="1.35" fill="#000000"/>
<circle cx="390.50" cy="53.70" r="1.35" fill="#000000"/>
<circle cx="391.50" cy="22.50" r="1.35" fill="#000000"/>
<circle cx="393.50" cy="25.00" r="1.35" fill="#000000"/>
<circle cx="395.00" cy="28.50" r="1.35" fill="#000000"/>
<circle cx="392.00" cy="36.00" r="1.35" fill="#000000"/>
<line x1="417.93" y1="30.20" x2="417.93" y2="36.50" stroke="#3d3d3d" stroke-width="0.8"/>
<line x1="417.93" y1="59.30" x2="417.93" y2="79.40" stroke="#3d3d3d" stroke-width="0.8"/>
<rect x="408.13" y="36.50" width="19.60" height="22.80" fill="#ffffff" stroke="#3d3d3d" stroke-width="0.8"/>
<line x1="408.13" y1="56.80" x2="427.73" y2="56.80" stroke="#3d3d3d" stroke-width="1.6"/>
<circle cx="416.40" cy="30.20" r="1.35" fill="#000000"/>
<circle cx="415.40" cy="36.50" r="1.35" fill="#000000"/>
<circle cx="419.50" cy="35.80" r="1.35" fill="#000000"/>
<circle cx="418.30" cy="35.00" r="1.35" fill="#000000"/>
<circle cx="415.40" cy="44.20" r="1.35" fill="#000000"/>
<circle cx="416.40" cy="56.80" r="1.35" fill="#000000"/>
<circle cx="418.30" cy="57.60" r="1.35" fill="#000000"/>
<circle cx="417.10" cy="58.80" r="1.35" fill="#000000"/>
<circle cx="416.60" cy="64.40" r="1.35" fill="#000000"/>
<circle cx="417.10" cy="70.40" r="1.35" fill="#000000"/>
<circle cx="415.40" cy="79.40" r="1.35" fill="#000000"/>
<circle cx="419.00" cy="34.00" r="1.35" fill="#000000"/>
<line x1="443.17" y1="38.20" x2="443.17" y2="55.90" stroke="#3d3d3d" stroke-width="0.8"/>
<line x1="443.17" y1="73.50" x2="443.17" y2="92.50" stroke="#3d3d3d" stroke-width="0.8"/>
<rect x="433.37" y="55.90" width="19.60" height="17.60" fill="#ffffff" stroke="#3d3d3d" stroke-width="0.8"/>
<line x1="433.37" y1="67.30" x2="452.97" y2="67.30" stroke="#3d3d3d" stroke-width="1.6"/>
<circle cx="441.73" cy="38.20" r="1.35" fill="#000000"/>
<circle cx="444.28" cy="92.50" r="1.35" fill="#000000"/>
<circle cx="445.27" cy="71.54" r="1.35" fill="#000000"/>
<circle cx="441.55" cy="84.31" r="1.35" fill="#000000"/>
<circle cx="441.52" cy="44.99" r="1.35" fill="#000000"/>
<circle cx="440.95" cy="64.27" r="1.35" fill="#000000"/>
<circle cx="441.45" cy="70.59" r="1.35" fill="#000000"/>
<circle cx="442.76" cy="82.19" r="1.35" fill="#000000"/>
<circle cx="443.82" cy="54.40" r="1.35" fill="#000000"/>
<circle cx="441.83" cy="56.06" r="1.35" fill="#000000"/>
<circle cx="445.40" cy="68.21" r="1.35" fill="#000000"/>
<circle cx="445.01" cy="75.40" r="1.35" fill="#000000"/>
<circle cx="444.64" cy="54.29" r="1.35" fill="#000000"/>
<circle cx="444.93" cy="66.72" r="1.35" fill="#000000"/>
<circle cx="445.27" cy="68.89" r="1.35" fill="#000000"/>
<circle cx="444.70" cy="79.24" r="1.35" fill="#000000"/>
<circle cx="442.75" cy="51.49" r="1.35" fill="#000000"/>
<circle cx="442.75" cy="60.05" r="1.35" fill="#000000"/>
<circle cx="440.88" cy="69.25" r="1.35" fill="#000000"/>
<circle cx="444.96" cy="75.30" r="1.35" fill="#000000"/>
<circle cx="444.32" cy="55.77" r="1.35" fill="#000000"/>
<circle cx="444.66" cy="62.22" r="1.35" fill="#000000"/>
<circle cx="444.23" cy="68.14" r="1.35" fill="#000000"/>
<circle cx="441.23" cy="79.85" r="1.35" fill="#000000"/>
<circle cx="443.31" cy="46.17" r="1.35" fill="#000000"/>
<circle cx="442.93" cy="58.79" r="1.35" fill="#000000"/>
<circle cx="442.55" cy="71.05" r="1.35" fill="#000000"/>
<circle cx="443.80" cy="38.20" r="1.35" fill="#000000"/>
<line x1="468.41" y1="34.80" x2="468.41" y2="53.60" stroke="#3d3d3d" stroke-width="0.8"/>
<line x1="468.41" y1="71.00" x2="468.41" y2="91.50" stroke="#3d3d3d" stroke-width="0.8"/>
<rect x="458.61" y="53.60" width="19.60" height="17.40" fill="#ffffff" stroke="#3d3d3d" stroke-width="0.8"/>
<line x1="458.61" y1="61.00" x2="478.21" y2="61.00" stroke="#3d3d3d" stroke-width="1.6"/>
<circle cx="468.41" cy="100.40" r="1.35" fill="#ff2a2a"/>
<circle cx="468.41" cy="101.30" r="1.35" fill="#ff2a2a"/>
<circle cx="468.41" cy="120.90" r="1.35" fill="#ff2a2a"/>
<circle cx="466.05" cy="34.80" r="1.35" fill="#000000"/>
<circle cx="469.63" cy="91.50" r="1.35" fill="#000000"/>
<circle cx="471.06" cy="67.52" r="1.35" fill="#000000"/>
<circle cx="466.95" cy="80.83" r="1.35" fill="#000000"/>
<circle cx="469.36" cy="50.91" r="1.35" fill="#000000"/>
<circle cx="469.52" cy="55.84" r="1.35" fill="#000000"/>
<circle cx="470.08" cy="64.97" r="1.35" fill="#000000"/>
<circle cx="466.75" cy="84.45" r="1.35" fill="#000000"/>
<circle cx="467.56" cy="52.65" r="1.35" fill="#000000"/>
<circle cx="470.24" cy="55.53" r="1.35" fill="#000000"/>
<circle cx="466.31" cy="67.32" r="1.35" fill="#000000"/>
<circle cx="469.40" cy="76.28" r="1.35" fill="#000000"/>
<circle cx="469.32" cy="42.44" r="1.35" fill="#000000"/>
<circle cx="467.44" cy="54.51" r="1.35" fill="#000000"/>
<circle cx="466.64" cy="61.83" r="1.35" fill="#000000"/>
<circle cx="467.83" cy="71.23" r="1.35" fill="#000000"/>
<circle cx="468.04" cy="53.51" r="1.35" fill="#000000"/>
<circle cx="470.65" cy="58.10" r="1.35" fill="#000000"/>
<circle cx="466.08" cy="67.87" r="1.35" fill="#000000"/>
<circle cx="469.22" cy="75.77" r="1.35" fill="#000000"/>
<circle cx="465.98" cy="42.80" r="1.35" fill="#000000"/>
<circle cx="468.50" cy="60.07" r="1.35" fill="#000000"/>
<circle cx="468.13" cy="62.94" r="1.35" fill="#000000"/>
<circle cx="470.20" cy="81.92" r="1.35" fill="#000000"/>
<circle cx="466.03" cy="48.10" r="1.35" fill="#000000"/>
<circle cx="465.95" cy="59.65" r="1.35" fill="#000000"/>
<circle cx="465.58" cy="63.81" r="1.35" fill="#000000"/>
<circle cx="466.10" cy="73.86" r="1.35" fill="#000000"/>
<circle cx="465.97" cy="48.43" r="1.35" fill="#000000"/>
<circle cx="469.53" cy="57.16" r="1.35" fill="#000000"/>
<circle cx="468.14" cy="66.35" r="1.35" fill="#000000"/>
<circle cx="468.04" cy="77.23" r="1.35" fill="#000000"/>
<circle cx="465.98" cy="49.31" r="1.35" fill="#000000"/>
<circle cx="466.83" cy="57.11" r="1.35" fill="#000000"/>
<circle cx="471.05" cy="69.65" r="1.35" fill="#000000"/>
<circle cx="466.27" cy="86.22" r="1.35" fill="#000000"/>
<circle cx="468.84" cy="50.57" r="1.35" fill="#000000"/>
<circle cx="469.64" cy="53.74" r="1.35" fill="#000000"/>
<circle cx="467.95" cy="70.44" r="1.35" fill="#000000"/>
<circle cx="468.83" cy="79.42" r="1.35" fill="#000000"/>
<circle cx="466.99" cy="53.02" r="1.35" fill="#000000"/>
<circle cx="466.55" cy="55.84" r="1.35" fill="#000000"/>
<circle cx="468.23" cy="67.28" r="1.35" fill="#000000"/>
<circle cx="467.74" cy="81.13" r="1.35" fill="#000000"/>
<circle cx="467.29" cy="38.31" r="1.35" fill="#000000"/>
<circle cx="468.93" cy="60.87" r="1.35" fill="#000000"/>
<circle cx="471.03" cy="63.83" r="1.35" fill="#000000"/>
<circle cx="466.92" cy="79.23" r="1.35" fill="#000000"/>
<circle cx="466.29" cy="38.32" r="1.35" fill="#000000"/>
<circle cx="466.79" cy="55.07" r="1.35" fill="#000000"/>
<circle cx="467.00" cy="69.73" r="1.35" fill="#000000"/>
<circle cx="469.04" cy="81.28" r="1.35" fill="#000000"/>
<circle cx="467.16" cy="52.80" r="1.35" fill="#000000"/>
<circle cx="467.63" cy="59.24" r="1.35" fill="#000000"/>
<circle cx="468.99" cy="66.61" r="1.35" fill="#000000"/>
<circle cx="466.50" cy="100.80" r="1.35" fill="#000000"/>
<circle cx="470.00" cy="100.20" r="1.35" fill="#000000"/>
<circle cx="467.21" cy="120.90" r="1.35" fill="#000000"/>
<line x1="493.65" y1="28.90" x2="493.65" y2="53.60" stroke="#3d3d3d" stroke-width="0.8"/>
<line x1="493.65" y1="75.40" x2="493.65" y2="101.80" stroke="#3d3d3d" stroke-width="0.8"/>
<rect x="483.85" y="53.60" width="19.60" height="21.80" fill="#ffffff" stroke="#3d3d3d" stroke-width="0.8"/>
<line x1="483.85" y1="62.20" x2="503.45" y2="62.20" stroke="#3d3d3d" stroke-width="1.6"/>
<circle cx="493.65" cy="108.00" r="1.35" fill="#ff2a2a"/>
<circle cx="496.45" cy="28.90" r="1.35" fill="#000000"/>
<circle cx="490.72" cy="101.80" r="1.35" fill="#000000"/>
<circle cx="491.60" cy="71.92" r="1.35" fill="#000000"/>
<circle cx="490.76" cy="75.58" r="1.35" fill="#000000"/>
<circle cx="494.74" cy="52.06" r="1.35" fill="#000000"/>
<circle cx="496.65" cy="60.97" r="1.35" fill="#000000"/>
<circle cx="492.68" cy="65.36" r="1.35" fill="#000000"/>
<circle cx="492.34" cy="79.58" r="1.35" fill="#000000"/>
<circle cx="492.03" cy="41.57" r="1.35" fill="#000000"/>
<circle cx="495.90" cy="60.98" r="1.35" fill="#000000"/>
<circle cx="492.00" cy="72.73" r="1.35" fill="#000000"/>
<circle cx="493.72" cy="76.41" r="1.35" fill="#000000"/>
<circle cx="493.39" cy="40.78" r="1.35" fill="#000000"/>
<circle cx="491.13" cy="57.21" r="1.35" fill="#000000"/>
<circle cx="492.81" cy="69.65" r="1.35" fill="#000000"/>
<circle cx="496.24" cy="81.88" r="1.35" fill="#000000"/>
<circle cx="493.09" cy="48.75" r="1.35" fill="#000000"/>
<circle cx="496.63" cy="61.03" r="1.35" fill="#000000"/>
<circle cx="496.32" cy="68.67" r="1.35" fill="#000000"/>
<circle cx="491.50" cy="98.19" r="1.35" fill="#000000"/>
<circle cx="496.28" cy="39.15" r="1.35" fill="#000000"/>
<circle cx="494.97" cy="59.54" r="1.35" fill="#000000"/>
<circle cx="493.62" cy="65.98" r="1.35" fill="#000000"/>
<circle cx="491.25" cy="76.94" r="1.35" fill="#000000"/>
<circle cx="490.94" cy="37.32" r="1.35" fill="#000000"/>
<circle cx="495.70" cy="57.63" r="1.35" fill="#000000"/>
<circle cx="493.06" cy="69.53" r="1.35" fill="#000000"/>
<circle cx="491.73" cy="83.09" r="1.35" fill="#000000"/>
<circle cx="492.78" cy="52.95" r="1.35" fill="#000000"/>
<circle cx="492.52" cy="55.62" r="1.35" fill="#000000"/>
<circle cx="492.56" cy="73.09" r="1.35" fill="#000000"/>
<circle cx="492.67" cy="76.69" r="1.35" fill="#000000"/>
<circle cx="491.10" cy="45.31" r="1.35" fill="#000000"/>
<circle cx="495.43" cy="61.40" r="1.35" fill="#000000"/>
<circle cx="491.35" cy="68.46" r="1.35" fill="#000000"/>
<circle cx="492.91" cy="83.27" r="1.35" fill="#000000"/>
<circle cx="496.22" cy="51.54" r="1.35" fill="#000000"/>
<circle cx="492.38" cy="59.97" r="1.35" fill="#000000"/>
<circle cx="496.02" cy="62.75" r="1.35" fill="#000000"/>
<circle cx="491.61" cy="76.14" r="1.35" fill="#000000"/>
<circle cx="493.54" cy="46.36" r="1.35" fill="#000000"/>
<circle cx="490.91" cy="62.00" r="1.35" fill="#000000"/>
<circle cx="495.72" cy="63.01" r="1.35" fill="#000000"/>
<circle cx="493.43" cy="81.88" r="1.35" fill="#000000"/>
<circle cx="494.21" cy="50.68" r="1.35" fill="#000000"/>
<circle cx="492.19" cy="59.55" r="1.35" fill="#000000"/>
<circle cx="490.71" cy="63.32" r="1.35" fill="#000000"/>
<circle cx="494.55" cy="86.56" r="1.35" fill="#000000"/>
<circle cx="492.74" cy="44.12" r="1.35" fill="#000000"/>
<circle cx="494.89" cy="58.92" r="1.35" fill="#000000"/>
<circle cx="492.53" cy="70.06" r="1.35" fill="#000000"/>
<circle cx="495.46" cy="77.87" r="1.35" fill="#000000"/>
<circle cx="496.01" cy="52.25" r="1.35" fill="#000000"/>
<circle cx="494.67" cy="53.73" r="1.35" fill="#000000"/>
<circle cx="492.99" cy="66.79" r="1.35" fill="#000000"/>
<circle cx="491.52" cy="82.80" r="1.35" fill="#000000"/>
<circle cx="496.57" cy="41.24" r="1.35" fill="#000000"/>
<circle cx="496.13" cy="56.45" r="1.35" fill="#000000"/>
<circle cx="492.54" cy="71.23" r="1.35" fill="#000000"/>
<circle cx="494.28" cy="86.90" r="1.35" fill="#000000"/>
<circle cx="492.70" cy="49.60" r="1.35" fill="#000000"/>
<circle cx="491.69" cy="54.11" r="1.35" fill="#000000"/>
<circle cx="495.03" cy="73.56" r="1.35" fill="#000000"/>
<circle cx="495.67" cy="93.11" r="1.35" fill="#000000"/>
<circle cx="492.66" cy="47.64" r="1.35" fill="#000000"/>
<circle cx="491.43" cy="61.29" r="1.35" fill="#000000"/>
<circle cx="492.72" cy="63.50" r="1.35" fill="#000000"/>
<circle cx="493.94" cy="79.12" r="1.35" fill="#000000"/>
<circle cx="496.10" cy="46.09" r="1.35" fill="#000000"/>
<circle cx="495.38" cy="56.99" r="1.35" fill="#000000"/>
<circle cx="495.35" cy="62.26" r="1.35" fill="#000000"/>
<circle cx="494.59" cy="91.39" r="1.35" fill="#000000"/>
<circle cx="494.59" cy="51.52" r="1.35" fill="#000000"/>
<circle cx="493.95" cy="58.58" r="1.35" fill="#000000"/>
<circle cx="494.85" cy="108.00" r="1.35" fill="#000000"/>
<text transform="translate(366.55,134.60) scale(1,1.08)" font-size="9.9" text-anchor="middle" fill="#000" font-weight="normal">n=11</text>
<text transform="translate(391.79,134.60) scale(1,1.08)" font-size="9.9" text-anchor="middle" fill="#000" font-weight="normal">n=19</text>
<text transform="translate(417.03,134.60) scale(1,1.08)" font-size="9.9" text-anchor="middle" fill="#000" font-weight="normal">n=13</text>
<text transform="translate(442.27,134.60) scale(1,1.08)" font-size="9.9" text-anchor="middle" fill="#000" font-weight="normal">n=27</text>
<text transform="translate(467.51,134.60) scale(1,1.08)" font-size="9.9" text-anchor="middle" fill="#000" font-weight="normal">n=57</text>
<text transform="translate(492.75,134.60) scale(1,1.08)" font-size="9.9" text-anchor="middle" fill="#000" font-weight="normal">n=75</text>
<rect x="352.30" y="16.50" width="156.50" height="119.10" fill="none" stroke="#3d3d3d" stroke-width="0.9"/>
<rect x="526.40" y="1.30" width="156.40" height="15.20" fill="#d9d9d9" stroke="#3d3d3d" stroke-width="0.9"/>
<text x="604.60" y="12.40" font-size="7.6" text-anchor="middle" fill="#1a1a1a" font-weight="normal">GRO-alpha</text>
<rect x="526.40" y="16.50" width="156.40" height="119.10" fill="#ffffff"/>
<line x1="526.40" y1="124.15" x2="682.80" y2="124.15" stroke="#f2f2f2" stroke-width="0.6"/>
<line x1="526.40" y1="88.85" x2="682.80" y2="88.85" stroke="#f2f2f2" stroke-width="0.6"/>
<line x1="526.40" y1="53.55" x2="682.80" y2="53.55" stroke="#f2f2f2" stroke-width="0.6"/>
<line x1="526.40" y1="18.25" x2="682.80" y2="18.25" stroke="#f2f2f2" stroke-width="0.6"/>
<line x1="526.40" y1="106.50" x2="682.80" y2="106.50" stroke="#ebebeb" stroke-width="0.9"/>
<line x1="526.40" y1="71.20" x2="682.80" y2="71.20" stroke="#ebebeb" stroke-width="0.9"/>
<line x1="526.40" y1="35.90" x2="682.80" y2="35.90" stroke="#ebebeb" stroke-width="0.9"/>
<line x1="541.54" y1="16.50" x2="541.54" y2="135.60" stroke="#ebebeb" stroke-width="0.9"/>
<line x1="566.76" y1="16.50" x2="566.76" y2="135.60" stroke="#ebebeb" stroke-width="0.9"/>
<line x1="591.99" y1="16.50" x2="591.99" y2="135.60" stroke="#ebebeb" stroke-width="0.9"/>
<line x1="617.21" y1="16.50" x2="617.21" y2="135.60" stroke="#ebebeb" stroke-width="0.9"/>
<line x1="642.44" y1="16.50" x2="642.44" y2="135.60" stroke="#ebebeb" stroke-width="0.9"/>
<line x1="667.66" y1="16.50" x2="667.66" y2="135.60" stroke="#ebebeb" stroke-width="0.9"/>
<line x1="523.60" y1="106.50" x2="526.40" y2="106.50" stroke="#3d3d3d" stroke-width="0.9"/>
<text x="521.40" y="109.93" font-size="7.3" text-anchor="end" fill="#5e5e5e" font-weight="normal">10</text>
<line x1="523.60" y1="71.20" x2="526.40" y2="71.20" stroke="#3d3d3d" stroke-width="0.9"/>
<text x="521.40" y="74.63" font-size="7.3" text-anchor="end" fill="#5e5e5e" font-weight="normal">12</text>
<line x1="523.60" y1="35.90" x2="526.40" y2="35.90" stroke="#3d3d3d" stroke-width="0.9"/>
<text x="521.40" y="39.33" font-size="7.3" text-anchor="end" fill="#5e5e5e" font-weight="normal">14</text>
<line x1="541.54" y1="135.60" x2="541.54" y2="138.40" stroke="#3d3d3d" stroke-width="0.9"/>
<text transform="translate(543.88,141.00) rotate(-90)" font-size="9.0" text-anchor="end" fill="#000000" font-weight="normal">NHBNCa</text>
<line x1="566.76" y1="135.60" x2="566.76" y2="138.40" stroke="#3d3d3d" stroke-width="0.9"/>
<text transform="translate(569.10,141.00) rotate(-90)" font-size="9.0" text-anchor="end" fill="#000000" font-weight="normal">NHBCa</text>
<line x1="591.99" y1="135.60" x2="591.99" y2="138.40" stroke="#3d3d3d" stroke-width="0.9"/>
<text transform="translate(594.33,141.00) rotate(-90)" font-size="9.0" text-anchor="end" fill="#000000" font-weight="normal">HLNCa</text>
<line x1="617.21" y1="135.60" x2="617.21" y2="138.40" stroke="#3d3d3d" stroke-width="0.9"/>
<text transform="translate(619.55,141.00) rotate(-90)" font-size="9.0" text-anchor="end" fill="#000000" font-weight="normal">HLCa</text>
<line x1="642.44" y1="135.60" x2="642.44" y2="138.40" stroke="#3d3d3d" stroke-width="0.9"/>
<text transform="translate(644.78,141.00) rotate(-90)" font-size="9.0" text-anchor="end" fill="#000000" font-weight="normal">NHWNCa</text>
<line x1="667.66" y1="135.60" x2="667.66" y2="138.40" stroke="#3d3d3d" stroke-width="0.9"/>
<text transform="translate(670.00,141.00) rotate(-90)" font-size="9.0" text-anchor="end" fill="#000000" font-weight="normal">NHWCa</text>
<line x1="541.54" y1="21.40" x2="541.54" y2="33.00" stroke="#3d3d3d" stroke-width="0.8"/>
<line x1="541.54" y1="63.20" x2="541.54" y2="88.50" stroke="#3d3d3d" stroke-width="0.8"/>
<rect x="531.74" y="33.00" width="19.60" height="30.20" fill="#ffffff" stroke="#3d3d3d" stroke-width="0.8"/>
<line x1="531.74" y1="48.00" x2="551.34" y2="48.00" stroke="#3d3d3d" stroke-width="1.6"/>
<line x1="541.54" y1="94.20" x2="541.54" y2="98.40" stroke="#3a3a3a" stroke-width="0.8"/>
<line x1="543.35" y1="95.25" x2="539.72" y2="97.35" stroke="#3a3a3a" stroke-width="0.8"/>
<line x1="543.35" y1="97.35" x2="539.72" y2="95.25" stroke="#3a3a3a" stroke-width="0.8"/>
<line x1="539.44" y1="96.30" x2="543.64" y2="96.30" stroke="#3a3a3a" stroke-width="0.8"/>
<circle cx="541.40" cy="21.40" r="1.35" fill="#000000"/>
<circle cx="542.20" cy="28.40" r="1.35" fill="#000000"/>
<circle cx="542.70" cy="32.50" r="1.35" fill="#000000"/>
<circle cx="539.60" cy="37.70" r="1.35" fill="#000000"/>
<circle cx="542.20" cy="48.00" r="1.35" fill="#000000"/>
<circle cx="539.60" cy="61.40" r="1.35" fill="#000000"/>
<circle cx="541.40" cy="66.00" r="1.35" fill="#000000"/>
<circle cx="540.90" cy="66.50" r="1.35" fill="#000000"/>
<circle cx="543.50" cy="88.50" r="1.35" fill="#000000"/>
<circle cx="541.00" cy="30.00" r="1.35" fill="#000000"/>
<circle cx="542.00" cy="47.00" r="1.35" fill="#000000"/>
<line x1="566.76" y1="24.80" x2="566.76" y2="35.10" stroke="#3d3d3d" stroke-width="0.8"/>
<line x1="566.76" y1="58.00" x2="566.76" y2="84.60" stroke="#3d3d3d" stroke-width="0.8"/>
<rect x="556.96" y="35.10" width="19.60" height="22.90" fill="#ffffff" stroke="#3d3d3d" stroke-width="0.8"/>
<line x1="556.96" y1="42.60" x2="576.56" y2="42.60" stroke="#3d3d3d" stroke-width="1.6"/>
<line x1="566.76" y1="94.20" x2="566.76" y2="98.40" stroke="#3a3a3a" stroke-width="0.8"/>
<line x1="568.58" y1="95.25" x2="564.94" y2="97.35" stroke="#3a3a3a" stroke-width="0.8"/>
<line x1="568.58" y1="97.35" x2="564.94" y2="95.25" stroke="#3a3a3a" stroke-width="0.8"/>
<line x1="564.66" y1="96.30" x2="568.86" y2="96.30" stroke="#3a3a3a" stroke-width="0.8"/>
<circle cx="567.20" cy="24.80" r="1.35" fill="#000000"/>
<circle cx="568.00" cy="27.90" r="1.35" fill="#000000"/>
<circle cx="566.70" cy="33.00" r="1.35" fill="#000000"/>
<circle cx="564.90" cy="36.40" r="1.35" fill="#000000"/>
<circle cx="566.10" cy="38.70" r="1.35" fill="#000000"/>
<circle cx="568.50" cy="40.80" r="1.35" fill="#000000"/>
<circle cx="568.00" cy="46.70" r="1.35" fill="#000000"/>
<circle cx="566.70" cy="49.80" r="1.35" fill="#000000"/>
<circle cx="568.00" cy="51.10" r="1.35" fill="#000000"/>
<circle cx="564.90" cy="64.50" r="1.35" fill="#000000"/>
<circle cx="568.00" cy="65.30" r="1.35" fill="#000000"/>
<circle cx="566.10" cy="67.80" r="1.35" fill="#000000"/>
<circle cx="565.40" cy="71.20" r="1.35" fill="#000000"/>
<circle cx="567.20" cy="84.60" r="1.35" fill="#000000"/>
<circle cx="566.00" cy="37.50" r="1.35" fill="#000000"/>
<circle cx="567.00" cy="39.50" r="1.35" fill="#000000"/>
<circle cx="568.50" cy="47.50" r="1.35" fill="#000000"/>
<circle cx="565.50" cy="66.50" r="1.35" fill="#000000"/>
<circle cx="567.50" cy="28.50" r="1.35" fill="#000000"/>
<line x1="591.99" y1="47.00" x2="591.99" y2="64.10" stroke="#3d3d3d" stroke-width="0.8"/>
<line x1="591.99" y1="76.60" x2="591.99" y2="86.40" stroke="#3d3d3d" stroke-width="0.8"/>
<rect x="582.19" y="64.10" width="19.60" height="12.50" fill="#ffffff" stroke="#3d3d3d" stroke-width="0.8"/>
<line x1="582.19" y1="67.00" x2="601.79" y2="67.00" stroke="#3d3d3d" stroke-width="1.6"/>
<circle cx="592.60" cy="45.90" r="1.35" fill="#ff2a2a"/>
<circle cx="592.60" cy="108.90" r="1.35" fill="#ff2a2a"/>
<circle cx="593.80" cy="59.20" r="1.35" fill="#000000"/>
<circle cx="591.30" cy="65.30" r="1.35" fill="#000000"/>
<circle cx="592.50" cy="66.50" r="1.35" fill="#000000"/>
<circle cx="593.80" cy="73.80" r="1.35" fill="#000000"/>
<circle cx="593.00" cy="76.20" r="1.35" fill="#000000"/>
<circle cx="592.10" cy="83.50" r="1.35" fill="#000000"/>
<circle cx="592.50" cy="86.40" r="1.35" fill="#000000"/>
<circle cx="590.00" cy="66.00" r="1.35" fill="#000000"/>
<circle cx="594.50" cy="65.50" r="1.35" fill="#000000"/>
<circle cx="592.00" cy="109.00" r="1.35" fill="#000000"/>
<circle cx="594.30" cy="46.20" r="1.35" fill="#000000"/>
<line x1="617.21" y1="42.30" x2="617.21" y2="60.00" stroke="#3d3d3d" stroke-width="0.8"/>
<line x1="617.21" y1="82.30" x2="617.21" y2="99.50" stroke="#3d3d3d" stroke-width="0.8"/>
<rect x="607.41" y="60.00" width="19.60" height="22.30" fill="#ffffff" stroke="#3d3d3d" stroke-width="0.8"/>
<line x1="607.41" y1="74.60" x2="627.01" y2="74.60" stroke="#3d3d3d" stroke-width="1.6"/>
<circle cx="619.76" cy="42.30" r="1.35" fill="#000000"/>
<circle cx="619.90" cy="99.50" r="1.35" fill="#000000"/>
<circle cx="614.71" cy="81.47" r="1.35" fill="#000000"/>
<circle cx="616.76" cy="86.27" r="1.35" fill="#000000"/>
<circle cx="614.99" cy="55.19" r="1.35" fill="#000000"/>
<circle cx="616.88" cy="62.80" r="1.35" fill="#000000"/>
<circle cx="616.94" cy="76.30" r="1.35" fill="#000000"/>
<circle cx="614.73" cy="96.79" r="1.35" fill="#000000"/>
<circle cx="616.74" cy="57.21" r="1.35" fill="#000000"/>
<circle cx="618.62" cy="67.48" r="1.35" fill="#000000"/>
<circle cx="614.56" cy="77.36" r="1.35" fill="#000000"/>
<circle cx="617.75" cy="84.28" r="1.35" fill="#000000"/>
<circle cx="617.94" cy="56.66" r="1.35" fill="#000000"/>
<circle cx="616.39" cy="74.17" r="1.35" fill="#000000"/>
<circle cx="616.43" cy="80.45" r="1.35" fill="#000000"/>
<circle cx="618.18" cy="86.49" r="1.35" fill="#000000"/>
<circle cx="614.73" cy="52.22" r="1.35" fill="#000000"/>
<circle cx="618.52" cy="66.92" r="1.35" fill="#000000"/>
<circle cx="616.90" cy="79.15" r="1.35" fill="#000000"/>
<circle cx="615.31" cy="85.71" r="1.35" fill="#000000"/>
<circle cx="616.15" cy="49.78" r="1.35" fill="#000000"/>
<circle cx="615.39" cy="71.91" r="1.35" fill="#000000"/>
<circle cx="614.80" cy="75.48" r="1.35" fill="#000000"/>
<circle cx="615.87" cy="96.11" r="1.35" fill="#000000"/>
<circle cx="619.14" cy="55.70" r="1.35" fill="#000000"/>
<circle cx="616.43" cy="64.83" r="1.35" fill="#000000"/>
<circle cx="616.04" cy="76.82" r="1.35" fill="#000000"/>
<circle cx="617.50" cy="42.30" r="1.35" fill="#000000"/>
<line x1="642.44" y1="44.00" x2="642.44" y2="70.30" stroke="#3d3d3d" stroke-width="0.8"/>
<line x1="642.44" y1="88.40" x2="642.44" y2="112.70" stroke="#3d3d3d" stroke-width="0.8"/>
<rect x="632.64" y="70.30" width="19.60" height="18.10" fill="#ffffff" stroke="#3d3d3d" stroke-width="0.8"/>
<line x1="632.64" y1="78.90" x2="652.24" y2="78.90" stroke="#3d3d3d" stroke-width="1.6"/>
<circle cx="643.71" cy="44.00" r="1.35" fill="#000000"/>
<circle cx="644.48" cy="112.70" r="1.35" fill="#000000"/>
<circle cx="645.43" cy="80.63" r="1.35" fill="#000000"/>
<circle cx="643.46" cy="101.99" r="1.35" fill="#000000"/>
<circle cx="643.99" cy="51.97" r="1.35" fill="#000000"/>
<circle cx="643.68" cy="71.60" r="1.35" fill="#000000"/>
<circle cx="644.03" cy="85.78" r="1.35" fill="#000000"/>
<circle cx="644.63" cy="96.56" r="1.35" fill="#000000"/>
<circle cx="640.13" cy="70.14" r="1.35" fill="#000000"/>
<circle cx="645.19" cy="74.75" r="1.35" fill="#000000"/>
<circle cx="642.10" cy="85.92" r="1.35" fill="#000000"/>
<circle cx="645.16" cy="99.29" r="1.35" fill="#000000"/>
<circle cx="644.00" cy="51.67" r="1.35" fill="#000000"/>
<circle cx="640.38" cy="77.55" r="1.35" fill="#000000"/>
<circle cx="641.27" cy="82.01" r="1.35" fill="#000000"/>
<circle cx="641.64" cy="94.81" r="1.35" fill="#000000"/>
<circle cx="644.99" cy="68.86" r="1.35" fill="#000000"/>
<circle cx="644.81" cy="73.02" r="1.35" fill="#000000"/>
<circle cx="640.02" cy="79.56" r="1.35" fill="#000000"/>
<circle cx="644.23" cy="92.88" r="1.35" fill="#000000"/>
<circle cx="645.39" cy="67.80" r="1.35" fill="#000000"/>
<circle cx="641.04" cy="77.69" r="1.35" fill="#000000"/>
<circle cx="644.99" cy="85.96" r="1.35" fill="#000000"/>
<circle cx="642.41" cy="105.27" r="1.35" fill="#000000"/>
<circle cx="640.30" cy="54.33" r="1.35" fill="#000000"/>
<circle cx="643.46" cy="74.42" r="1.35" fill="#000000"/>
<circle cx="640.23" cy="88.15" r="1.35" fill="#000000"/>
<circle cx="645.42" cy="95.42" r="1.35" fill="#000000"/>
<circle cx="642.63" cy="67.00" r="1.35" fill="#000000"/>
<circle cx="643.22" cy="72.39" r="1.35" fill="#000000"/>
<circle cx="643.30" cy="81.38" r="1.35" fill="#000000"/>
<circle cx="641.79" cy="93.13" r="1.35" fill="#000000"/>
<circle cx="641.86" cy="67.45" r="1.35" fill="#000000"/>
<circle cx="644.43" cy="74.33" r="1.35" fill="#000000"/>
<circle cx="640.55" cy="81.28" r="1.35" fill="#000000"/>
<circle cx="642.05" cy="94.28" r="1.35" fill="#000000"/>
<circle cx="640.93" cy="68.59" r="1.35" fill="#000000"/>
<circle cx="639.79" cy="73.49" r="1.35" fill="#000000"/>
<circle cx="641.31" cy="83.18" r="1.35" fill="#000000"/>
<circle cx="644.02" cy="96.42" r="1.35" fill="#000000"/>
<circle cx="645.37" cy="49.09" r="1.35" fill="#000000"/>
<circle cx="644.31" cy="76.42" r="1.35" fill="#000000"/>
<circle cx="642.90" cy="84.02" r="1.35" fill="#000000"/>
<circle cx="641.82" cy="97.15" r="1.35" fill="#000000"/>
<circle cx="641.26" cy="56.36" r="1.35" fill="#000000"/>
<circle cx="641.46" cy="72.83" r="1.35" fill="#000000"/>
<circle cx="644.23" cy="87.52" r="1.35" fill="#000000"/>
<circle cx="639.54" cy="93.24" r="1.35" fill="#000000"/>
<circle cx="642.70" cy="57.47" r="1.35" fill="#000000"/>
<circle cx="641.95" cy="76.25" r="1.35" fill="#000000"/>
<circle cx="644.87" cy="84.91" r="1.35" fill="#000000"/>
<circle cx="641.73" cy="100.13" r="1.35" fill="#000000"/>
<circle cx="641.35" cy="66.93" r="1.35" fill="#000000"/>
<circle cx="641.82" cy="76.50" r="1.35" fill="#000000"/>
<circle cx="642.21" cy="79.08" r="1.35" fill="#000000"/>
<circle cx="644.15" cy="106.36" r="1.35" fill="#000000"/>
<circle cx="642.62" cy="68.18" r="1.35" fill="#000000"/>
<line x1="667.66" y1="36.00" x2="667.66" y2="64.90" stroke="#3d3d3d" stroke-width="0.8"/>
<line x1="667.66" y1="86.20" x2="667.66" y2="116.80" stroke="#3d3d3d" stroke-width="0.8"/>
<rect x="657.86" y="64.90" width="19.60" height="21.30" fill="#ffffff" stroke="#3d3d3d" stroke-width="0.8"/>
<line x1="657.86" y1="75.30" x2="677.46" y2="75.30" stroke="#3d3d3d" stroke-width="1.6"/>
<circle cx="666.93" cy="36.00" r="1.35" fill="#000000"/>
<circle cx="670.23" cy="116.80" r="1.35" fill="#000000"/>
<circle cx="665.95" cy="84.49" r="1.35" fill="#000000"/>
<circle cx="668.48" cy="88.23" r="1.35" fill="#000000"/>
<circle cx="670.38" cy="41.95" r="1.35" fill="#000000"/>
<circle cx="666.50" cy="67.56" r="1.35" fill="#000000"/>
<circle cx="668.20" cy="79.92" r="1.35" fill="#000000"/>
<circle cx="668.78" cy="106.01" r="1.35" fill="#000000"/>
<circle cx="667.74" cy="62.36" r="1.35" fill="#000000"/>
<circle cx="668.41" cy="73.16" r="1.35" fill="#000000"/>
<circle cx="665.75" cy="84.29" r="1.35" fill="#000000"/>
<circle cx="667.48" cy="98.47" r="1.35" fill="#000000"/>
<circle cx="670.50" cy="45.32" r="1.35" fill="#000000"/>
<circle cx="665.25" cy="71.51" r="1.35" fill="#000000"/>
<circle cx="667.15" cy="81.65" r="1.35" fill="#000000"/>
<circle cx="665.63" cy="103.48" r="1.35" fill="#000000"/>
<circle cx="665.09" cy="55.62" r="1.35" fill="#000000"/>
<circle cx="667.75" cy="70.76" r="1.35" fill="#000000"/>
<circle cx="669.92" cy="76.69" r="1.35" fill="#000000"/>
<circle cx="665.70" cy="110.64" r="1.35" fill="#000000"/>
<circle cx="665.99" cy="62.12" r="1.35" fill="#000000"/>
<circle cx="668.02" cy="69.31" r="1.35" fill="#000000"/>
<circle cx="667.63" cy="80.05" r="1.35" fill="#000000"/>
<circle cx="667.56" cy="95.06" r="1.35" fill="#000000"/>
<circle cx="669.56" cy="42.94" r="1.35" fill="#000000"/>
<circle cx="664.95" cy="67.84" r="1.35" fill="#000000"/>
<circle cx="669.55" cy="79.75" r="1.35" fill="#000000"/>
<circle cx="667.41" cy="92.53" r="1.35" fill="#000000"/>
<circle cx="665.98" cy="55.98" r="1.35" fill="#000000"/>
<circle cx="666.77" cy="71.33" r="1.35" fill="#000000"/>
<circle cx="665.45" cy="76.00" r="1.35" fill="#000000"/>
<circle cx="668.77" cy="107.49" r="1.35" fill="#000000"/>
<circle cx="669.20" cy="63.14" r="1.35" fill="#000000"/>
<circle cx="665.55" cy="67.18" r="1.35" fill="#000000"/>
<circle cx="666.91" cy="85.66" r="1.35" fill="#000000"/>
<circle cx="668.09" cy="104.29" r="1.35" fill="#000000"/>
<circle cx="667.91" cy="58.73" r="1.35" fill="#000000"/>
<circle cx="666.49" cy="69.60" r="1.35" fill="#000000"/>
<circle cx="667.41" cy="80.69" r="1.35" fill="#000000"/>
<circle cx="667.35" cy="91.54" r="1.35" fill="#000000"/>
<circle cx="670.58" cy="53.22" r="1.35" fill="#000000"/>
<circle cx="669.20" cy="66.05" r="1.35" fill="#000000"/>
<circle cx="669.50" cy="79.85" r="1.35" fill="#000000"/>
<circle cx="668.06" cy="91.05" r="1.35" fill="#000000"/>
<circle cx="666.04" cy="58.57" r="1.35" fill="#000000"/>
<circle cx="669.14" cy="65.07" r="1.35" fill="#000000"/>
<circle cx="665.33" cy="78.12" r="1.35" fill="#000000"/>
<circle cx="668.21" cy="89.24" r="1.35" fill="#000000"/>
<circle cx="667.78" cy="41.20" r="1.35" fill="#000000"/>
<circle cx="669.86" cy="66.60" r="1.35" fill="#000000"/>
<circle cx="670.30" cy="78.25" r="1.35" fill="#000000"/>
<circle cx="665.13" cy="92.85" r="1.35" fill="#000000"/>
<circle cx="670.46" cy="54.48" r="1.35" fill="#000000"/>
<circle cx="665.59" cy="72.19" r="1.35" fill="#000000"/>
<circle cx="666.31" cy="79.31" r="1.35" fill="#000000"/>
<circle cx="668.23" cy="107.45" r="1.35" fill="#000000"/>
<circle cx="665.97" cy="60.09" r="1.35" fill="#000000"/>
<circle cx="669.83" cy="70.64" r="1.35" fill="#000000"/>
<circle cx="665.69" cy="85.03" r="1.35" fill="#000000"/>
<circle cx="670.14" cy="108.42" r="1.35" fill="#000000"/>
<circle cx="665.66" cy="52.51" r="1.35" fill="#000000"/>
<circle cx="666.25" cy="73.21" r="1.35" fill="#000000"/>
<circle cx="668.81" cy="83.13" r="1.35" fill="#000000"/>
<circle cx="667.43" cy="100.25" r="1.35" fill="#000000"/>
<circle cx="669.50" cy="51.55" r="1.35" fill="#000000"/>
<circle cx="666.31" cy="67.85" r="1.35" fill="#000000"/>
<circle cx="666.32" cy="84.65" r="1.35" fill="#000000"/>
<circle cx="667.76" cy="96.58" r="1.35" fill="#000000"/>
<circle cx="666.39" cy="37.30" r="1.35" fill="#000000"/>
<circle cx="670.55" cy="72.63" r="1.35" fill="#000000"/>
<circle cx="667.53" cy="79.03" r="1.35" fill="#000000"/>
<circle cx="667.59" cy="109.50" r="1.35" fill="#000000"/>
<circle cx="667.68" cy="53.33" r="1.35" fill="#000000"/>
<circle cx="666.55" cy="68.01" r="1.35" fill="#000000"/>
<circle cx="669.33" cy="85.25" r="1.35" fill="#000000"/>
<text transform="translate(540.64,134.60) scale(1,1.08)" font-size="9.9" text-anchor="middle" fill="#000" font-weight="normal">n=11</text>
<text transform="translate(565.86,134.60) scale(1,1.08)" font-size="9.9" text-anchor="middle" fill="#000" font-weight="normal">n=19</text>
<text transform="translate(591.09,134.60) scale(1,1.08)" font-size="9.9" text-anchor="middle" fill="#000" font-weight="normal">n=13</text>
<text transform="translate(616.31,134.60) scale(1,1.08)" font-size="9.9" text-anchor="middle" fill="#000" font-weight="normal">n=27</text>
<text transform="translate(641.54,134.60) scale(1,1.08)" font-size="9.9" text-anchor="middle" fill="#000" font-weight="normal">n=57</text>
<text transform="translate(666.76,134.60) scale(1,1.08)" font-size="9.9" text-anchor="middle" fill="#000" font-weight="normal">n=75</text>
<rect x="526.40" y="16.50" width="156.40" height="119.10" fill="none" stroke="#3d3d3d" stroke-width="0.9"/>
<text transform="translate(332.00,79.10) rotate(-90)" font-size="10" text-anchor="middle" fill="#1a1a1a" font-weight="normal">Log2 Levels</text>
<rect x="25.30" y="162.40" width="117.40" height="16.00" fill="#d9d9d9" stroke="#3d3d3d" stroke-width="0.9"/>
<text x="84.00" y="174.00" font-size="8.0" text-anchor="middle" fill="#1a1a1a" font-weight="normal">ENA-78</text>
<rect x="25.30" y="178.40" width="117.40" height="118.90" fill="#ffffff"/>
<line x1="25.30" y1="283.05" x2="142.70" y2="283.05" stroke="#f2f2f2" stroke-width="0.6"/>
<line x1="25.30" y1="247.35" x2="142.70" y2="247.35" stroke="#f2f2f2" stroke-width="0.6"/>
<line x1="25.30" y1="211.65" x2="142.70" y2="211.65" stroke="#f2f2f2" stroke-width="0.6"/>
<line x1="25.30" y1="265.20" x2="142.70" y2="265.20" stroke="#ebebeb" stroke-width="0.9"/>
<line x1="25.30" y1="229.50" x2="142.70" y2="229.50" stroke="#ebebeb" stroke-width="0.9"/>
<line x1="25.30" y1="193.80" x2="142.70" y2="193.80" stroke="#ebebeb" stroke-width="0.9"/>
<line x1="47.31" y1="178.40" x2="47.31" y2="297.30" stroke="#ebebeb" stroke-width="0.9"/>
<line x1="84.00" y1="178.40" x2="84.00" y2="297.30" stroke="#ebebeb" stroke-width="0.9"/>
<line x1="120.69" y1="178.40" x2="120.69" y2="297.30" stroke="#ebebeb" stroke-width="0.9"/>
<line x1="22.50" y1="265.20" x2="25.30" y2="265.20" stroke="#3d3d3d" stroke-width="0.9"/>
<text x="20.70" y="269.20" font-size="8.9" text-anchor="end" fill="#5e5e5e" font-weight="normal">12</text>
<line x1="22.50" y1="229.50" x2="25.30" y2="229.50" stroke="#3d3d3d" stroke-width="0.9"/>
<text x="20.70" y="233.50" font-size="8.9" text-anchor="end" fill="#5e5e5e" font-weight="normal">14</text>
<line x1="22.50" y1="193.80" x2="25.30" y2="193.80" stroke="#3d3d3d" stroke-width="0.9"/>
<text x="20.70" y="197.80" font-size="8.9" text-anchor="end" fill="#5e5e5e" font-weight="normal">16</text>
<line x1="47.31" y1="297.30" x2="47.31" y2="300.10" stroke="#3d3d3d" stroke-width="0.9"/>
<text x="47.11" y="310.30" font-size="8.1" text-anchor="middle" fill="#000000" font-weight="normal">NHB</text>
<line x1="84.00" y1="297.30" x2="84.00" y2="300.10" stroke="#3d3d3d" stroke-width="0.9"/>
<text x="83.70" y="310.30" font-size="8.1" text-anchor="middle" fill="#000000" font-weight="normal">H/L</text>
<line x1="120.69" y1="297.30" x2="120.69" y2="300.10" stroke="#3d3d3d" stroke-width="0.9"/>
<text x="120.49" y="310.30" font-size="8.1" text-anchor="middle" fill="#000000" font-weight="normal">NHW</text>
<line x1="47.31" y1="205.00" x2="47.31" y2="207.50" stroke="#3d3d3d" stroke-width="0.8"/>
<line x1="47.31" y1="221.30" x2="47.31" y2="231.30" stroke="#3d3d3d" stroke-width="0.8"/>
<rect x="33.31" y="207.50" width="28.00" height="13.80" fill="#ffffff" stroke="#3d3d3d" stroke-width="0.8"/>
<line x1="33.31" y1="210.80" x2="61.31" y2="210.80" stroke="#3d3d3d" stroke-width="2.0"/>
<circle cx="47.80" cy="246.80" r="1.6" fill="#ff2a2a"/>
<circle cx="49.50" cy="203.00" r="1.6" fill="#000000"/>
<circle cx="50.50" cy="203.80" r="1.6" fill="#000000"/>
<circle cx="48.50" cy="205.50" r="1.6" fill="#000000"/>
<circle cx="49.00" cy="206.80" r="1.6" fill="#000000"/>
<circle cx="47.20" cy="215.20" r="1.6" fill="#000000"/>
<circle cx="51.20" cy="213.80" r="1.6" fill="#000000"/>
<circle cx="49.70" cy="220.50" r="1.6" fill="#000000"/>
<circle cx="48.00" cy="221.80" r="1.6" fill="#000000"/>
<circle cx="47.50" cy="231.30" r="1.6" fill="#000000"/>
<circle cx="46.70" cy="246.80" r="1.6" fill="#000000"/>
<circle cx="50.00" cy="208.50" r="1.6" fill="#000000"/>
<circle cx="49.00" cy="211.00" r="1.6" fill="#000000"/>
<line x1="84.00" y1="233.50" x2="84.00" y2="239.30" stroke="#3d3d3d" stroke-width="0.8"/>
<line x1="84.00" y1="257.10" x2="84.00" y2="282.30" stroke="#3d3d3d" stroke-width="0.8"/>
<rect x="70.20" y="239.30" width="27.60" height="17.80" fill="#ffffff" stroke="#3d3d3d" stroke-width="0.8"/>
<line x1="70.20" y1="245.70" x2="97.80" y2="245.70" stroke="#3d3d3d" stroke-width="2.0"/>
<circle cx="84.80" cy="233.50" r="1.6" fill="#000000"/>
<circle cx="82.90" cy="239.80" r="1.6" fill="#000000"/>
<circle cx="87.10" cy="240.40" r="1.6" fill="#000000"/>
<circle cx="82.20" cy="245.70" r="1.6" fill="#000000"/>
<circle cx="84.80" cy="255.30" r="1.6" fill="#000000"/>
<circle cx="87.10" cy="259.30" r="1.6" fill="#000000"/>
<circle cx="86.20" cy="282.30" r="1.6" fill="#000000"/>
<line x1="120.69" y1="219.50" x2="120.69" y2="239.50" stroke="#3d3d3d" stroke-width="0.8"/>
<line x1="120.69" y1="261.70" x2="120.69" y2="292.20" stroke="#3d3d3d" stroke-width="0.8"/>
<rect x="106.69" y="239.50" width="28.00" height="22.20" fill="#ffffff" stroke="#3d3d3d" stroke-width="0.8"/>
<line x1="106.69" y1="251.00" x2="134.69" y2="251.00" stroke="#3d3d3d" stroke-width="2.0"/>
<circle cx="118.15" cy="219.50" r="1.6" fill="#000000"/>
<circle cx="118.97" cy="292.20" r="1.6" fill="#000000"/>
<circle cx="123.09" cy="254.24" r="1.6" fill="#000000"/>
<circle cx="122.01" cy="270.71" r="1.6" fill="#000000"/>
<circle cx="120.74" cy="225.83" r="1.6" fill="#000000"/>
<circle cx="120.82" cy="249.20" r="1.6" fill="#000000"/>
<circle cx="122.98" cy="261.11" r="1.6" fill="#000000"/>
<circle cx="117.69" cy="273.62" r="1.6" fill="#000000"/>
<circle cx="118.45" cy="236.88" r="1.6" fill="#000000"/>
<circle cx="122.07" cy="239.61" r="1.6" fill="#000000"/>
<circle cx="122.71" cy="260.02" r="1.6" fill="#000000"/>
<circle cx="118.90" cy="262.42" r="1.6" fill="#000000"/>
<circle cx="118.41" cy="225.21" r="1.6" fill="#000000"/>
<circle cx="118.36" cy="250.74" r="1.6" fill="#000000"/>
<circle cx="117.81" cy="252.71" r="1.6" fill="#000000"/>
<circle cx="117.92" cy="285.43" r="1.6" fill="#000000"/>
<circle cx="118.67" cy="231.38" r="1.6" fill="#000000"/>
<circle cx="123.26" cy="243.06" r="1.6" fill="#000000"/>
<circle cx="122.57" cy="252.79" r="1.6" fill="#000000"/>
<circle cx="121.10" cy="265.99" r="1.6" fill="#000000"/>
<circle cx="122.31" cy="234.67" r="1.6" fill="#000000"/>
<circle cx="119.06" cy="246.25" r="1.6" fill="#000000"/>
<circle cx="119.15" cy="254.53" r="1.6" fill="#000000"/>
<circle cx="123.61" cy="272.89" r="1.6" fill="#000000"/>
<circle cx="118.11" cy="232.57" r="1.6" fill="#000000"/>
<circle cx="122.56" cy="244.98" r="1.6" fill="#000000"/>
<circle cx="121.90" cy="255.77" r="1.6" fill="#000000"/>
<circle cx="118.06" cy="283.00" r="1.6" fill="#000000"/>
<circle cx="117.98" cy="235.77" r="1.6" fill="#000000"/>
<circle cx="120.00" cy="242.97" r="1.6" fill="#000000"/>
<circle cx="117.91" cy="253.07" r="1.6" fill="#000000"/>
<circle cx="123.40" cy="289.70" r="1.6" fill="#000000"/>
<circle cx="123.40" cy="236.10" r="1.6" fill="#000000"/>
<circle cx="123.41" cy="245.15" r="1.6" fill="#000000"/>
<circle cx="121.40" cy="260.23" r="1.6" fill="#000000"/>
<circle cx="120.74" cy="270.10" r="1.6" fill="#000000"/>
<circle cx="119.94" cy="229.00" r="1.6" fill="#000000"/>
<circle cx="118.86" cy="247.81" r="1.6" fill="#000000"/>
<circle cx="120.75" cy="260.09" r="1.6" fill="#000000"/>
<circle cx="122.62" cy="268.49" r="1.6" fill="#000000"/>
<circle cx="118.51" cy="235.58" r="1.6" fill="#000000"/>
<circle cx="117.69" cy="242.35" r="1.6" fill="#000000"/>
<circle cx="123.40" cy="251.29" r="1.6" fill="#000000"/>
<circle cx="123.50" cy="268.71" r="1.6" fill="#000000"/>
<circle cx="119.58" cy="237.17" r="1.6" fill="#000000"/>
<circle cx="123.22" cy="250.62" r="1.6" fill="#000000"/>
<circle cx="118.19" cy="255.88" r="1.6" fill="#000000"/>
<circle cx="118.69" cy="274.99" r="1.6" fill="#000000"/>
<circle cx="118.18" cy="231.59" r="1.6" fill="#000000"/>
<circle cx="123.56" cy="247.70" r="1.6" fill="#000000"/>
<line x1="48.60" y1="193.50" x2="119.70" y2="193.50" stroke="#ff2a2a" stroke-width="1.0"/>
<line x1="48.60" y1="196.00" x2="83.30" y2="196.00" stroke="#ff2a2a" stroke-width="1.0"/>
<text x="46.81" y="188.90" font-size="10.4" text-anchor="middle" fill="#111" font-weight="normal">n=12</text>
<text x="83.50" y="188.90" font-size="10.4" text-anchor="middle" fill="#111" font-weight="normal">n=7</text>
<text x="120.19" y="188.90" font-size="10.4" text-anchor="middle" fill="#111" font-weight="normal">n=50</text>
<text x="99.30" y="219.30" font-size="9.3" text-anchor="middle" fill="#111" font-weight="normal">N/S</text>
<rect x="25.30" y="178.40" width="117.40" height="118.90" fill="none" stroke="#3d3d3d" stroke-width="0.9"/>
<rect x="161.30" y="162.40" width="116.90" height="16.00" fill="#d9d9d9" stroke="#3d3d3d" stroke-width="0.9"/>
<text x="219.75" y="174.00" font-size="8.2" text-anchor="middle" fill="#1a1a1a" font-weight="normal">GRO-alpha</text>
<rect x="161.30" y="178.40" width="116.90" height="118.90" fill="#ffffff"/>
<line x1="161.30" y1="275.38" x2="278.20" y2="275.38" stroke="#f2f2f2" stroke-width="0.6"/>
<line x1="161.30" y1="242.55" x2="278.20" y2="242.55" stroke="#f2f2f2" stroke-width="0.6"/>
<line x1="161.30" y1="209.72" x2="278.20" y2="209.72" stroke="#f2f2f2" stroke-width="0.6"/>
<line x1="161.30" y1="291.80" x2="278.20" y2="291.80" stroke="#ebebeb" stroke-width="0.9"/>
<line x1="161.30" y1="258.97" x2="278.20" y2="258.97" stroke="#ebebeb" stroke-width="0.9"/>
<line x1="161.30" y1="226.13" x2="278.20" y2="226.13" stroke="#ebebeb" stroke-width="0.9"/>
<line x1="161.30" y1="193.30" x2="278.20" y2="193.30" stroke="#ebebeb" stroke-width="0.9"/>
<line x1="183.22" y1="178.40" x2="183.22" y2="297.30" stroke="#ebebeb" stroke-width="0.9"/>
<line x1="219.75" y1="178.40" x2="219.75" y2="297.30" stroke="#ebebeb" stroke-width="0.9"/>
<line x1="256.28" y1="178.40" x2="256.28" y2="297.30" stroke="#ebebeb" stroke-width="0.9"/>
<line x1="158.50" y1="291.80" x2="161.30" y2="291.80" stroke="#3d3d3d" stroke-width="0.9"/>
<text x="156.70" y="295.80" font-size="8.9" text-anchor="end" fill="#5e5e5e" font-weight="normal">10</text>
<line x1="158.50" y1="258.97" x2="161.30" y2="258.97" stroke="#3d3d3d" stroke-width="0.9"/>
<text x="156.70" y="262.97" font-size="8.9" text-anchor="end" fill="#5e5e5e" font-weight="normal">12</text>
<line x1="158.50" y1="226.13" x2="161.30" y2="226.13" stroke="#3d3d3d" stroke-width="0.9"/>
<text x="156.70" y="230.14" font-size="8.9" text-anchor="end" fill="#5e5e5e" font-weight="normal">14</text>
<line x1="158.50" y1="193.30" x2="161.30" y2="193.30" stroke="#3d3d3d" stroke-width="0.9"/>
<text x="156.70" y="197.30" font-size="8.9" text-anchor="end" fill="#5e5e5e" font-weight="normal">16</text>
<line x1="183.22" y1="297.30" x2="183.22" y2="300.10" stroke="#3d3d3d" stroke-width="0.9"/>
<text x="184.32" y="310.30" font-size="8.1" text-anchor="middle" fill="#000000" font-weight="normal">NHB</text>
<line x1="219.75" y1="297.30" x2="219.75" y2="300.10" stroke="#3d3d3d" stroke-width="0.9"/>
<text x="220.75" y="310.30" font-size="8.1" text-anchor="middle" fill="#000000" font-weight="normal">H/L</text>
<line x1="256.28" y1="297.30" x2="256.28" y2="300.10" stroke="#3d3d3d" stroke-width="0.9"/>
<text x="257.78" y="310.30" font-size="8.1" text-anchor="middle" fill="#000000" font-weight="normal">NHW</text>
<line x1="183.22" y1="210.80" x2="183.22" y2="229.50" stroke="#3d3d3d" stroke-width="0.8"/>
<line x1="183.22" y1="244.50" x2="183.22" y2="252.50" stroke="#3d3d3d" stroke-width="0.8"/>
<rect x="169.22" y="229.50" width="28.00" height="15.00" fill="#ffffff" stroke="#3d3d3d" stroke-width="0.8"/>
<line x1="169.22" y1="236.70" x2="197.22" y2="236.70" stroke="#3d3d3d" stroke-width="2.0"/>
<circle cx="185.70" cy="210.80" r="1.6" fill="#000000"/>
<circle cx="185.50" cy="217.80" r="1.6" fill="#000000"/>
<circle cx="182.70" cy="224.70" r="1.6" fill="#000000"/>
<circle cx="184.30" cy="230.50" r="1.6" fill="#000000"/>
<circle cx="185.70" cy="235.00" r="1.6" fill="#000000"/>
<circle cx="186.50" cy="234.00" r="1.6" fill="#000000"/>
<circle cx="180.20" cy="237.20" r="1.6" fill="#000000"/>
<circle cx="181.30" cy="240.30" r="1.6" fill="#000000"/>
<circle cx="181.30" cy="244.50" r="1.6" fill="#000000"/>
<circle cx="186.80" cy="245.00" r="1.6" fill="#000000"/>
<circle cx="180.70" cy="253.70" r="1.6" fill="#000000"/>
<circle cx="183.00" cy="243.00" r="1.6" fill="#000000"/>
<line x1="219.75" y1="260.00" x2="219.75" y2="263.40" stroke="#3d3d3d" stroke-width="0.8"/>
<line x1="219.75" y1="268.70" x2="219.75" y2="281.50" stroke="#3d3d3d" stroke-width="0.8"/>
<rect x="205.75" y="263.40" width="28.00" height="5.30" fill="#ffffff" stroke="#3d3d3d" stroke-width="0.8"/>
<line x1="205.75" y1="266.30" x2="233.75" y2="266.30" stroke="#3d3d3d" stroke-width="2.0"/>
<circle cx="219.70" cy="232.90" r="1.6" fill="#ff2a2a"/>
<circle cx="222.10" cy="232.90" r="1.6" fill="#000000"/>
<circle cx="218.70" cy="260.00" r="1.6" fill="#000000"/>
<circle cx="217.80" cy="266.90" r="1.6" fill="#000000"/>
<circle cx="221.30" cy="265.70" r="1.6" fill="#000000"/>
<circle cx="217.80" cy="268.30" r="1.6" fill="#000000"/>
<circle cx="220.30" cy="281.50" r="1.6" fill="#000000"/>
<line x1="256.28" y1="234.80" x2="256.28" y2="257.30" stroke="#3d3d3d" stroke-width="0.8"/>
<line x1="256.28" y1="279.40" x2="256.28" y2="290.40" stroke="#3d3d3d" stroke-width="0.8"/>
<rect x="242.28" y="257.30" width="28.00" height="22.10" fill="#ffffff" stroke="#3d3d3d" stroke-width="0.8"/>
<line x1="242.28" y1="268.90" x2="270.28" y2="268.90" stroke="#3d3d3d" stroke-width="2.0"/>
<circle cx="257.50" cy="211.50" r="1.6" fill="#ff2a2a"/>
<circle cx="257.17" cy="234.80" r="1.6" fill="#000000"/>
<circle cx="253.24" cy="290.40" r="1.6" fill="#000000"/>
<circle cx="254.51" cy="271.79" r="1.6" fill="#000000"/>
<circle cx="257.41" cy="280.96" r="1.6" fill="#000000"/>
<circle cx="253.64" cy="256.56" r="1.6" fill="#000000"/>
<circle cx="253.27" cy="262.19" r="1.6" fill="#000000"/>
<circle cx="256.32" cy="271.20" r="1.6" fill="#000000"/>
<circle cx="254.35" cy="288.61" r="1.6" fill="#000000"/>
<circle cx="256.57" cy="254.72" r="1.6" fill="#000000"/>
<circle cx="256.85" cy="259.86" r="1.6" fill="#000000"/>
<circle cx="253.12" cy="277.40" r="1.6" fill="#000000"/>
<circle cx="257.55" cy="280.53" r="1.6" fill="#000000"/>
<circle cx="254.08" cy="251.76" r="1.6" fill="#000000"/>
<circle cx="255.24" cy="268.40" r="1.6" fill="#000000"/>
<circle cx="253.70" cy="269.87" r="1.6" fill="#000000"/>
<circle cx="256.95" cy="280.27" r="1.6" fill="#000000"/>
<circle cx="257.75" cy="255.95" r="1.6" fill="#000000"/>
<circle cx="259.31" cy="263.52" r="1.6" fill="#000000"/>
<circle cx="256.61" cy="272.87" r="1.6" fill="#000000"/>
<circle cx="257.04" cy="280.38" r="1.6" fill="#000000"/>
<circle cx="256.78" cy="256.35" r="1.6" fill="#000000"/>
<circle cx="253.37" cy="265.47" r="1.6" fill="#000000"/>
<circle cx="254.93" cy="271.29" r="1.6" fill="#000000"/>
<circle cx="254.57" cy="287.29" r="1.6" fill="#000000"/>
<circle cx="254.86" cy="248.23" r="1.6" fill="#000000"/>
<circle cx="255.42" cy="264.67" r="1.6" fill="#000000"/>
<circle cx="254.42" cy="272.79" r="1.6" fill="#000000"/>
<circle cx="259.08" cy="284.72" r="1.6" fill="#000000"/>
<circle cx="256.98" cy="254.71" r="1.6" fill="#000000"/>
<circle cx="257.75" cy="259.29" r="1.6" fill="#000000"/>
<circle cx="255.51" cy="270.62" r="1.6" fill="#000000"/>
<circle cx="257.18" cy="279.46" r="1.6" fill="#000000"/>
<circle cx="257.46" cy="253.93" r="1.6" fill="#000000"/>
<circle cx="258.05" cy="267.08" r="1.6" fill="#000000"/>
<circle cx="253.29" cy="271.31" r="1.6" fill="#000000"/>
<circle cx="254.79" cy="284.22" r="1.6" fill="#000000"/>
<circle cx="259.12" cy="250.11" r="1.6" fill="#000000"/>
<circle cx="255.10" cy="267.47" r="1.6" fill="#000000"/>
<circle cx="255.61" cy="275.78" r="1.6" fill="#000000"/>
<circle cx="256.02" cy="279.88" r="1.6" fill="#000000"/>
<circle cx="254.66" cy="250.85" r="1.6" fill="#000000"/>
<circle cx="254.76" cy="263.81" r="1.6" fill="#000000"/>
<circle cx="258.83" cy="275.04" r="1.6" fill="#000000"/>
<circle cx="254.48" cy="283.45" r="1.6" fill="#000000"/>
<circle cx="256.34" cy="257.28" r="1.6" fill="#000000"/>
<circle cx="253.38" cy="258.35" r="1.6" fill="#000000"/>
<circle cx="257.10" cy="270.05" r="1.6" fill="#000000"/>
<circle cx="255.78" cy="280.61" r="1.6" fill="#000000"/>
<circle cx="255.52" cy="247.35" r="1.6" fill="#000000"/>
<circle cx="259.50" cy="211.50" r="1.6" fill="#000000"/>
<line x1="184.30" y1="197.50" x2="255.00" y2="197.50" stroke="#ff2a2a" stroke-width="1.0"/>
<line x1="184.30" y1="200.00" x2="219.00" y2="200.00" stroke="#ff2a2a" stroke-width="1.0"/>
<text x="182.72" y="188.90" font-size="10.4" text-anchor="middle" fill="#111" font-weight="normal">n=12</text>
<text x="219.25" y="188.90" font-size="10.4" text-anchor="middle" fill="#111" font-weight="normal">n=7</text>
<text x="255.78" y="188.90" font-size="10.4" text-anchor="middle" fill="#111" font-weight="normal">n=50</text>
<text x="237.50" y="224.50" font-size="9.3" text-anchor="middle" fill="#111" font-weight="normal">N/S</text>
<rect x="161.30" y="178.40" width="116.90" height="118.90" fill="none" stroke="#3d3d3d" stroke-width="0.9"/>
<text transform="translate(9.00,232.60) rotate(-90)" font-size="10" text-anchor="middle" fill="#1a1a1a" font-weight="normal">Log2 Levels</text>
<rect x="362.40" y="189.00" width="156.00" height="123.00" fill="#ffffff"/>
<line x1="362.40" y1="307.67" x2="518.40" y2="307.67" stroke="#f2f2f2" stroke-width="0.6"/>
<line x1="362.40" y1="280.73" x2="518.40" y2="280.73" stroke="#f2f2f2" stroke-width="0.6"/>
<line x1="362.40" y1="253.80" x2="518.40" y2="253.80" stroke="#f2f2f2" stroke-width="0.6"/>
<line x1="362.40" y1="226.87" x2="518.40" y2="226.87" stroke="#f2f2f2" stroke-width="0.6"/>
<line x1="362.40" y1="199.93" x2="518.40" y2="199.93" stroke="#f2f2f2" stroke-width="0.6"/>
<line x1="362.40" y1="294.20" x2="518.40" y2="294.20" stroke="#ebebeb" stroke-width="0.9"/>
<line x1="362.40" y1="267.27" x2="518.40" y2="267.27" stroke="#ebebeb" stroke-width="0.9"/>
<line x1="362.40" y1="240.33" x2="518.40" y2="240.33" stroke="#ebebeb" stroke-width="0.9"/>
<line x1="362.40" y1="213.40" x2="518.40" y2="213.40" stroke="#ebebeb" stroke-width="0.9"/>
<line x1="391.65" y1="189.00" x2="391.65" y2="312.00" stroke="#ebebeb" stroke-width="0.9"/>
<line x1="440.40" y1="189.00" x2="440.40" y2="312.00" stroke="#ebebeb" stroke-width="0.9"/>
<line x1="489.15" y1="189.00" x2="489.15" y2="312.00" stroke="#ebebeb" stroke-width="0.9"/>
<line x1="359.60" y1="294.20" x2="362.40" y2="294.20" stroke="#3d3d3d" stroke-width="0.9"/>
<text x="356.40" y="298.46" font-size="9.6" text-anchor="end" fill="#5e5e5e" font-weight="normal">-2.5</text>
<line x1="359.60" y1="267.27" x2="362.40" y2="267.27" stroke="#3d3d3d" stroke-width="0.9"/>
<text x="356.40" y="271.52" font-size="9.6" text-anchor="end" fill="#5e5e5e" font-weight="normal">0.0</text>
<line x1="359.60" y1="240.33" x2="362.40" y2="240.33" stroke="#3d3d3d" stroke-width="0.9"/>
<text x="356.40" y="244.59" font-size="9.6" text-anchor="end" fill="#5e5e5e" font-weight="normal">2.5</text>
<line x1="359.60" y1="213.40" x2="362.40" y2="213.40" stroke="#3d3d3d" stroke-width="0.9"/>
<text x="356.40" y="217.66" font-size="9.6" text-anchor="end" fill="#5e5e5e" font-weight="normal">5.0</text>
<line x1="391.65" y1="312.00" x2="391.65" y2="314.80" stroke="#3d3d3d" stroke-width="0.9"/>
<text x="390.35" y="328.40" font-size="9.4" text-anchor="middle" fill="#000000" font-weight="normal">NHB</text>
<line x1="440.40" y1="312.00" x2="440.40" y2="314.80" stroke="#3d3d3d" stroke-width="0.9"/>
<text x="439.50" y="328.40" font-size="9.4" text-anchor="middle" fill="#000000" font-weight="normal">H/L</text>
<line x1="489.15" y1="312.00" x2="489.15" y2="314.80" stroke="#3d3d3d" stroke-width="0.9"/>
<text x="489.95" y="328.40" font-size="9.4" text-anchor="middle" fill="#000000" font-weight="normal">NHW</text>
<line x1="391.65" y1="232.50" x2="391.65" y2="248.60" stroke="#3d3d3d" stroke-width="0.8"/>
<line x1="391.65" y1="263.50" x2="391.65" y2="276.20" stroke="#3d3d3d" stroke-width="0.8"/>
<rect x="373.35" y="248.60" width="36.60" height="14.90" fill="#ffffff" stroke="#3d3d3d" stroke-width="1.0"/>
<line x1="373.35" y1="254.40" x2="409.95" y2="254.40" stroke="#3d3d3d" stroke-width="2.0"/>
<circle cx="391.50" cy="307.30" r="1.3" fill="#ff2a2a"/>
<circle cx="391.63" cy="232.50" r="1.3" fill="#000000"/>
<circle cx="389.31" cy="276.20" r="1.3" fill="#000000"/>
<circle cx="389.07" cy="260.20" r="1.3" fill="#000000"/>
<circle cx="396.35" cy="267.46" r="1.3" fill="#000000"/>
<circle cx="389.82" cy="237.20" r="1.3" fill="#000000"/>
<circle cx="387.50" cy="252.52" r="1.3" fill="#000000"/>
<circle cx="394.90" cy="255.80" r="1.3" fill="#000000"/>
<circle cx="389.84" cy="263.63" r="1.3" fill="#000000"/>
<circle cx="396.37" cy="239.50" r="1.3" fill="#000000"/>
<circle cx="392.69" cy="250.51" r="1.3" fill="#000000"/>
<circle cx="393.00" cy="259.93" r="1.3" fill="#000000"/>
<circle cx="396.27" cy="264.05" r="1.3" fill="#000000"/>
<circle cx="394.90" cy="245.90" r="1.3" fill="#000000"/>
<circle cx="393.08" cy="253.20" r="1.3" fill="#000000"/>
<circle cx="388.92" cy="258.32" r="1.3" fill="#000000"/>
<circle cx="395.95" cy="269.65" r="1.3" fill="#000000"/>
<circle cx="387.71" cy="245.97" r="1.3" fill="#000000"/>
<circle cx="389.36" cy="253.88" r="1.3" fill="#000000"/>
<circle cx="391.25" cy="260.70" r="1.3" fill="#000000"/>
<circle cx="388.74" cy="269.60" r="1.3" fill="#000000"/>
<circle cx="390.77" cy="244.75" r="1.3" fill="#000000"/>
<circle cx="393.61" cy="252.22" r="1.3" fill="#000000"/>
<circle cx="395.18" cy="261.86" r="1.3" fill="#000000"/>
<circle cx="396.31" cy="266.16" r="1.3" fill="#000000"/>
<circle cx="395.53" cy="243.84" r="1.3" fill="#000000"/>
<circle cx="394.83" cy="253.33" r="1.3" fill="#000000"/>
<circle cx="392.35" cy="255.54" r="1.3" fill="#000000"/>
<circle cx="387.58" cy="267.07" r="1.3" fill="#000000"/>
<circle cx="391.82" cy="242.26" r="1.3" fill="#000000"/>
<circle cx="386.74" cy="248.64" r="1.3" fill="#000000"/>
<circle cx="388.60" cy="307.30" r="1.3" fill="#000000"/>
<line x1="440.40" y1="216.40" x2="440.40" y2="236.00" stroke="#3d3d3d" stroke-width="0.8"/>
<line x1="440.40" y1="253.70" x2="440.40" y2="269.20" stroke="#3d3d3d" stroke-width="0.8"/>
<rect x="422.10" y="236.00" width="36.60" height="17.70" fill="#ffffff" stroke="#3d3d3d" stroke-width="1.0"/>
<line x1="422.10" y1="248.40" x2="458.70" y2="248.40" stroke="#3d3d3d" stroke-width="2.0"/>
<circle cx="440.00" cy="292.60" r="1.3" fill="#ff2a2a"/>
<circle cx="437.84" cy="216.40" r="1.3" fill="#000000"/>
<circle cx="440.42" cy="269.20" r="1.3" fill="#000000"/>
<circle cx="443.61" cy="249.26" r="1.3" fill="#000000"/>
<circle cx="440.92" cy="261.74" r="1.3" fill="#000000"/>
<circle cx="439.37" cy="235.26" r="1.3" fill="#000000"/>
<circle cx="442.71" cy="248.00" r="1.3" fill="#000000"/>
<circle cx="441.69" cy="251.31" r="1.3" fill="#000000"/>
<circle cx="439.00" cy="257.33" r="1.3" fill="#000000"/>
<circle cx="439.44" cy="235.97" r="1.3" fill="#000000"/>
<circle cx="443.93" cy="248.20" r="1.3" fill="#000000"/>
<circle cx="437.98" cy="248.55" r="1.3" fill="#000000"/>
<circle cx="443.55" cy="258.49" r="1.3" fill="#000000"/>
<circle cx="441.56" cy="224.66" r="1.3" fill="#000000"/>
<circle cx="443.26" cy="240.55" r="1.3" fill="#000000"/>
<circle cx="443.02" cy="253.31" r="1.3" fill="#000000"/>
<circle cx="443.00" cy="262.39" r="1.3" fill="#000000"/>
<circle cx="443.77" cy="229.37" r="1.3" fill="#000000"/>
<circle cx="444.47" cy="241.83" r="1.3" fill="#000000"/>
<circle cx="443.64" cy="253.63" r="1.3" fill="#000000"/>
<circle cx="443.59" cy="255.11" r="1.3" fill="#000000"/>
<circle cx="437.15" cy="231.48" r="1.3" fill="#000000"/>
<circle cx="440.04" cy="248.23" r="1.3" fill="#000000"/>
<circle cx="439.74" cy="248.49" r="1.3" fill="#000000"/>
<circle cx="437.41" cy="259.22" r="1.3" fill="#000000"/>
<circle cx="436.52" cy="235.61" r="1.3" fill="#000000"/>
<circle cx="440.90" cy="247.21" r="1.3" fill="#000000"/>
<circle cx="438.98" cy="249.35" r="1.3" fill="#000000"/>
<circle cx="436.58" cy="258.80" r="1.3" fill="#000000"/>
<circle cx="441.92" cy="233.52" r="1.3" fill="#000000"/>
<circle cx="443.70" cy="248.18" r="1.3" fill="#000000"/>
<circle cx="445.37" cy="252.57" r="1.3" fill="#000000"/>
<circle cx="441.84" cy="254.24" r="1.3" fill="#000000"/>
<circle cx="440.64" cy="230.79" r="1.3" fill="#000000"/>
<circle cx="444.65" cy="246.09" r="1.3" fill="#000000"/>
<circle cx="443.79" cy="252.80" r="1.3" fill="#000000"/>
<circle cx="439.61" cy="266.64" r="1.3" fill="#000000"/>
<circle cx="441.25" cy="222.19" r="1.3" fill="#000000"/>
<circle cx="441.01" cy="243.19" r="1.3" fill="#000000"/>
<circle cx="437.65" cy="252.95" r="1.3" fill="#000000"/>
<circle cx="441.26" cy="255.97" r="1.3" fill="#000000"/>
<circle cx="443.50" cy="292.60" r="1.3" fill="#000000"/>
<line x1="489.15" y1="221.80" x2="489.15" y2="241.10" stroke="#3d3d3d" stroke-width="0.8"/>
<line x1="489.15" y1="253.70" x2="489.15" y2="272.70" stroke="#3d3d3d" stroke-width="0.8"/>
<rect x="470.85" y="241.10" width="36.60" height="12.60" fill="#ffffff" stroke="#3d3d3d" stroke-width="1.0"/>
<line x1="470.85" y1="247.10" x2="507.45" y2="247.10" stroke="#3d3d3d" stroke-width="2.0"/>
<circle cx="488.80" cy="194.70" r="1.3" fill="#ff2a2a"/>
<circle cx="488.90" cy="212.80" r="1.3" fill="#ff2a2a"/>
<circle cx="489.20" cy="217.70" r="1.3" fill="#ff2a2a"/>
<circle cx="489.00" cy="276.60" r="1.3" fill="#ff2a2a"/>
<circle cx="489.50" cy="283.40" r="1.3" fill="#ff2a2a"/>
<circle cx="493.93" cy="221.80" r="1.3" fill="#000000"/>
<circle cx="484.70" cy="272.70" r="1.3" fill="#000000"/>
<circle cx="488.99" cy="251.89" r="1.3" fill="#000000"/>
<circle cx="488.22" cy="254.26" r="1.3" fill="#000000"/>
<circle cx="485.74" cy="240.30" r="1.3" fill="#000000"/>
<circle cx="488.28" cy="247.07" r="1.3" fill="#000000"/>
<circle cx="487.61" cy="248.31" r="1.3" fill="#000000"/>
<circle cx="484.49" cy="257.61" r="1.3" fill="#000000"/>
<circle cx="484.26" cy="233.81" r="1.3" fill="#000000"/>
<circle cx="485.85" cy="241.52" r="1.3" fill="#000000"/>
<circle cx="486.89" cy="248.62" r="1.3" fill="#000000"/>
<circle cx="488.31" cy="255.94" r="1.3" fill="#000000"/>
<circle cx="493.13" cy="239.67" r="1.3" fill="#000000"/>
<circle cx="493.63" cy="246.47" r="1.3" fill="#000000"/>
<circle cx="490.86" cy="250.90" r="1.3" fill="#000000"/>
<circle cx="489.59" cy="254.86" r="1.3" fill="#000000"/>
<circle cx="489.35" cy="229.08" r="1.3" fill="#000000"/>
<circle cx="485.95" cy="244.28" r="1.3" fill="#000000"/>
<circle cx="486.00" cy="247.71" r="1.3" fill="#000000"/>
<circle cx="492.27" cy="256.83" r="1.3" fill="#000000"/>
<circle cx="488.42" cy="237.44" r="1.3" fill="#000000"/>
<circle cx="484.19" cy="241.27" r="1.3" fill="#000000"/>
<circle cx="489.45" cy="251.42" r="1.3" fill="#000000"/>
<circle cx="485.87" cy="259.86" r="1.3" fill="#000000"/>
<circle cx="485.95" cy="228.58" r="1.3" fill="#000000"/>
<circle cx="490.14" cy="241.87" r="1.3" fill="#000000"/>
<circle cx="489.70" cy="249.13" r="1.3" fill="#000000"/>
<circle cx="489.63" cy="260.25" r="1.3" fill="#000000"/>
<circle cx="491.96" cy="238.45" r="1.3" fill="#000000"/>
<circle cx="493.75" cy="242.00" r="1.3" fill="#000000"/>
<circle cx="492.35" cy="252.73" r="1.3" fill="#000000"/>
<circle cx="493.67" cy="259.91" r="1.3" fill="#000000"/>
<circle cx="486.54" cy="239.20" r="1.3" fill="#000000"/>
<circle cx="492.64" cy="245.22" r="1.3" fill="#000000"/>
<circle cx="493.15" cy="252.07" r="1.3" fill="#000000"/>
<circle cx="490.86" cy="258.88" r="1.3" fill="#000000"/>
<circle cx="490.79" cy="227.12" r="1.3" fill="#000000"/>
<circle cx="491.39" cy="241.98" r="1.3" fill="#000000"/>
<circle cx="487.87" cy="253.06" r="1.3" fill="#000000"/>
<circle cx="484.58" cy="267.67" r="1.3" fill="#000000"/>
<circle cx="485.71" cy="235.67" r="1.3" fill="#000000"/>
<circle cx="490.25" cy="245.53" r="1.3" fill="#000000"/>
<circle cx="490.86" cy="250.40" r="1.3" fill="#000000"/>
<circle cx="488.73" cy="265.32" r="1.3" fill="#000000"/>
<circle cx="489.62" cy="225.95" r="1.3" fill="#000000"/>
<circle cx="485.69" cy="245.86" r="1.3" fill="#000000"/>
<circle cx="494.09" cy="251.64" r="1.3" fill="#000000"/>
<circle cx="486.23" cy="261.89" r="1.3" fill="#000000"/>
<circle cx="492.48" cy="231.50" r="1.3" fill="#000000"/>
<circle cx="491.91" cy="241.58" r="1.3" fill="#000000"/>
<circle cx="491.71" cy="248.83" r="1.3" fill="#000000"/>
<circle cx="492.63" cy="254.81" r="1.3" fill="#000000"/>
<circle cx="489.63" cy="230.26" r="1.3" fill="#000000"/>
<circle cx="492.90" cy="243.00" r="1.3" fill="#000000"/>
<circle cx="485.84" cy="249.05" r="1.3" fill="#000000"/>
<circle cx="485.01" cy="260.59" r="1.3" fill="#000000"/>
<circle cx="491.18" cy="230.91" r="1.3" fill="#000000"/>
<circle cx="486.00" cy="243.06" r="1.3" fill="#000000"/>
<circle cx="486.76" cy="253.27" r="1.3" fill="#000000"/>
<circle cx="490.99" cy="255.75" r="1.3" fill="#000000"/>
<circle cx="490.64" cy="236.19" r="1.3" fill="#000000"/>
<circle cx="492.56" cy="244.59" r="1.3" fill="#000000"/>
<circle cx="486.83" cy="251.68" r="1.3" fill="#000000"/>
<circle cx="489.22" cy="257.32" r="1.3" fill="#000000"/>
<circle cx="485.31" cy="240.34" r="1.3" fill="#000000"/>
<circle cx="493.82" cy="243.81" r="1.3" fill="#000000"/>
<circle cx="491.42" cy="247.55" r="1.3" fill="#000000"/>
<circle cx="490.24" cy="254.68" r="1.3" fill="#000000"/>
<circle cx="491.91" cy="226.41" r="1.3" fill="#000000"/>
<circle cx="489.33" cy="242.68" r="1.3" fill="#000000"/>
<circle cx="487.28" cy="252.49" r="1.3" fill="#000000"/>
<circle cx="485.32" cy="263.31" r="1.3" fill="#000000"/>
<circle cx="485.17" cy="233.10" r="1.3" fill="#000000"/>
<circle cx="492.45" cy="245.27" r="1.3" fill="#000000"/>
<circle cx="489.43" cy="247.47" r="1.3" fill="#000000"/>
<circle cx="491.93" cy="255.79" r="1.3" fill="#000000"/>
<circle cx="489.45" cy="231.74" r="1.3" fill="#000000"/>
<circle cx="489.35" cy="245.19" r="1.3" fill="#000000"/>
<circle cx="493.25" cy="253.69" r="1.3" fill="#000000"/>
<circle cx="485.40" cy="254.03" r="1.3" fill="#000000"/>
<circle cx="490.05" cy="224.84" r="1.3" fill="#000000"/>
<circle cx="486.81" cy="244.57" r="1.3" fill="#000000"/>
<circle cx="492.01" cy="248.71" r="1.3" fill="#000000"/>
<circle cx="484.28" cy="255.74" r="1.3" fill="#000000"/>
<circle cx="491.35" cy="228.56" r="1.3" fill="#000000"/>
<circle cx="485.69" cy="243.64" r="1.3" fill="#000000"/>
<circle cx="487.45" cy="253.36" r="1.3" fill="#000000"/>
<circle cx="488.27" cy="267.41" r="1.3" fill="#000000"/>
<circle cx="490.62" cy="234.10" r="1.3" fill="#000000"/>
<circle cx="484.97" cy="245.69" r="1.3" fill="#000000"/>
<circle cx="493.17" cy="250.21" r="1.3" fill="#000000"/>
<circle cx="493.03" cy="259.45" r="1.3" fill="#000000"/>
<circle cx="492.19" cy="240.11" r="1.3" fill="#000000"/>
<circle cx="485.25" cy="245.01" r="1.3" fill="#000000"/>
<circle cx="487.16" cy="253.59" r="1.3" fill="#000000"/>
<circle cx="489.19" cy="262.19" r="1.3" fill="#000000"/>
<circle cx="491.86" cy="235.92" r="1.3" fill="#000000"/>
<circle cx="493.36" cy="244.34" r="1.3" fill="#000000"/>
<circle cx="490.62" cy="252.29" r="1.3" fill="#000000"/>
<circle cx="490.51" cy="262.74" r="1.3" fill="#000000"/>
<circle cx="491.73" cy="235.46" r="1.3" fill="#000000"/>
<circle cx="492.08" cy="242.75" r="1.3" fill="#000000"/>
<circle cx="485.94" cy="251.81" r="1.3" fill="#000000"/>
<circle cx="489.00" cy="254.30" r="1.3" fill="#000000"/>
<circle cx="487.52" cy="234.62" r="1.3" fill="#000000"/>
<circle cx="492.16" cy="243.42" r="1.3" fill="#000000"/>
<circle cx="488.84" cy="253.19" r="1.3" fill="#000000"/>
<circle cx="488.84" cy="258.84" r="1.3" fill="#000000"/>
<circle cx="493.04" cy="228.55" r="1.3" fill="#000000"/>
<circle cx="484.42" cy="243.62" r="1.3" fill="#000000"/>
<circle cx="487.15" cy="248.64" r="1.3" fill="#000000"/>
<circle cx="485.93" cy="255.86" r="1.3" fill="#000000"/>
<circle cx="493.18" cy="229.45" r="1.3" fill="#000000"/>
<circle cx="493.46" cy="242.93" r="1.3" fill="#000000"/>
<circle cx="485.04" cy="247.17" r="1.3" fill="#000000"/>
<circle cx="488.06" cy="263.99" r="1.3" fill="#000000"/>
<circle cx="487.43" cy="235.96" r="1.3" fill="#000000"/>
<circle cx="493.59" cy="246.88" r="1.3" fill="#000000"/>
<circle cx="494.01" cy="250.85" r="1.3" fill="#000000"/>
<circle cx="493.90" cy="255.06" r="1.3" fill="#000000"/>
<circle cx="485.22" cy="236.58" r="1.3" fill="#000000"/>
<circle cx="484.64" cy="244.50" r="1.3" fill="#000000"/>
<circle cx="494.09" cy="249.80" r="1.3" fill="#000000"/>
<circle cx="491.00" cy="260.76" r="1.3" fill="#000000"/>
<circle cx="491.24" cy="240.62" r="1.3" fill="#000000"/>
<circle cx="489.28" cy="243.40" r="1.3" fill="#000000"/>
<circle cx="491.98" cy="247.91" r="1.3" fill="#000000"/>
<circle cx="487.39" cy="257.40" r="1.3" fill="#000000"/>
<circle cx="492.68" cy="234.49" r="1.3" fill="#000000"/>
<circle cx="486.34" cy="241.39" r="1.3" fill="#000000"/>
<circle cx="492.05" cy="251.24" r="1.3" fill="#000000"/>
<circle cx="490.46" cy="258.72" r="1.3" fill="#000000"/>
<circle cx="489.86" cy="223.74" r="1.3" fill="#000000"/>
<circle cx="484.88" cy="244.43" r="1.3" fill="#000000"/>
<circle cx="486.69" cy="250.59" r="1.3" fill="#000000"/>
<circle cx="492.06" cy="261.54" r="1.3" fill="#000000"/>
<circle cx="484.27" cy="239.45" r="1.3" fill="#000000"/>
<circle cx="490.51" cy="241.62" r="1.3" fill="#000000"/>
<circle cx="490.48" cy="253.20" r="1.3" fill="#000000"/>
<circle cx="491.60" cy="261.60" r="1.3" fill="#000000"/>
<circle cx="484.80" cy="240.22" r="1.3" fill="#000000"/>
<circle cx="488.52" cy="241.32" r="1.3" fill="#000000"/>
<circle cx="489.38" cy="251.81" r="1.3" fill="#000000"/>
<circle cx="485.74" cy="259.57" r="1.3" fill="#000000"/>
<circle cx="484.58" cy="229.64" r="1.3" fill="#000000"/>
<circle cx="490.80" cy="194.70" r="1.3" fill="#000000"/>
<circle cx="490.20" cy="212.80" r="1.3" fill="#000000"/>
<circle cx="490.20" cy="218.50" r="1.3" fill="#000000"/>
<circle cx="492.60" cy="276.60" r="1.3" fill="#000000"/>
<circle cx="486.00" cy="281.70" r="1.3" fill="#000000"/>
<circle cx="489.50" cy="283.40" r="1.3" fill="#000000"/>
<circle cx="485.00" cy="311.50" r="1.3" fill="#000000"/>
<line x1="393.90" y1="286.50" x2="437.70" y2="286.50" stroke="#ff2a2a" stroke-width="1.0"/>
<line x1="393.90" y1="289.50" x2="486.00" y2="289.50" stroke="#ff2a2a" stroke-width="1.0"/>
<text x="390.65" y="213.00" font-size="12.0" text-anchor="middle" fill="#111" font-weight="normal">n=31</text>
<text x="439.40" y="213.00" font-size="12.0" text-anchor="middle" fill="#111" font-weight="normal">n=41</text>
<text x="488.15" y="213.00" font-size="12.0" text-anchor="middle" fill="#111" font-weight="normal">n=150</text>
<rect x="362.40" y="189.00" width="156.00" height="123.00" fill="none" stroke="#3d3d3d" stroke-width="0.9"/>
<text transform="translate(334.00,251.80) rotate(-90)" font-size="8.9" text-anchor="middle" fill="#1a1a1a" font-weight="normal">NLR</text>
</svg>
</body></html>
